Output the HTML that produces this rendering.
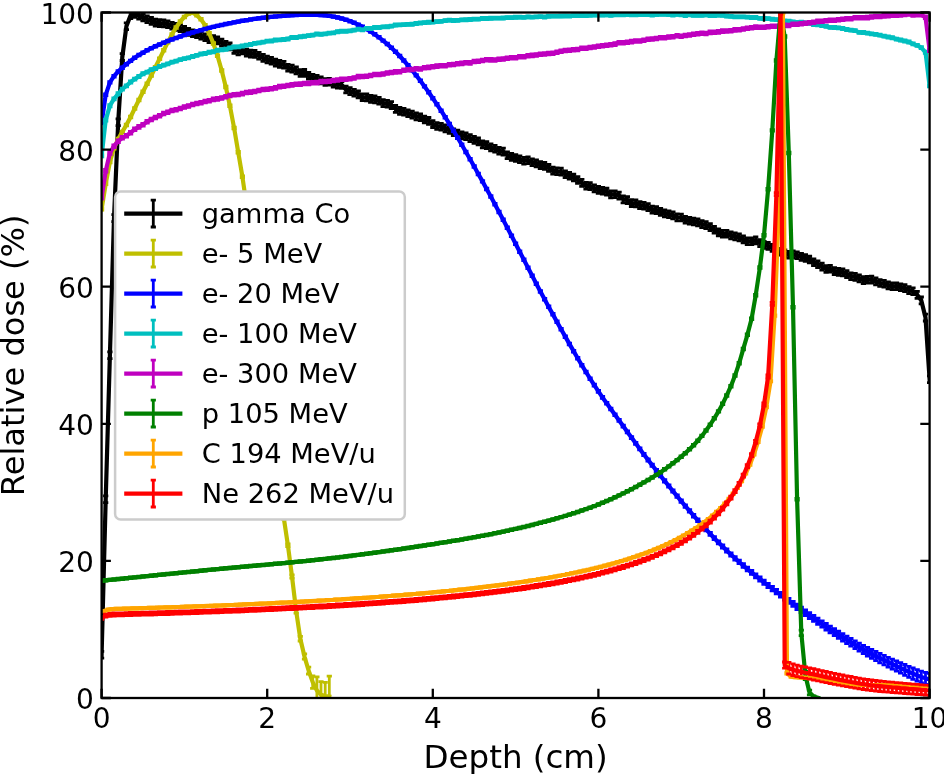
<!DOCTYPE html>
<html lang="en">
<head>
<meta charset="utf-8">
<title>Relative dose vs depth</title>
<style>
html,body{margin:0;padding:0;background:#fff;}
body{width:944px;height:774px;overflow:hidden;}
svg{display:block;}
text{font-family:"DejaVu Sans","Liberation Sans",sans-serif;fill:#000;}
.tk{font-size:28px;}
.lb{font-size:32.5px;}
.lg{font-size:27.3px;}
.ln{fill:none;stroke-width:4.2;stroke-linejoin:round;stroke-linecap:square;}
.eb{fill:none;stroke-width:2.8;stroke-linecap:butt;}
</style>
</head>
<body>
<svg width="944" height="774" viewBox="0 0 944 774">
<rect x="0" y="0" width="944" height="774" fill="#ffffff"/>
<defs><clipPath id="ax"><rect x="101.6" y="12.5" width="828" height="685.5"/></clipPath></defs>
<g clip-path="url(#ax)">
<path class="eb" stroke="#000000" d="M101.6 651.4V658.2M105.7 495.8V502.6M109.9 351.8V358.7M114 214.7V221.6M118.2 118.8V125.6M122.3 53.6V60.5M126.4 22.8V29.6M130.6 11.8V18.7M134.7 10.4V17.3M138.9 12.2V19M143 14.1V20.9M147.1 15.9V22.7M151.3 17.5V24.3M155.4 19.2V26.1M159.6 19.6V26.5M163.7 20V26.8M167.8 20.8V27.7M172 22.4V29.2M176.1 23.5V30.4M180.3 24.6V31.5M184.4 26.3V33.1M188.5 28.5V35.3M192.7 29.9V36.7M196.8 30.6V37.5M201 32.2V39M205.1 33.8V40.7M209.2 35.9V42.7M213.4 35.6V42.4M217.5 37V43.9M221.7 39.2V46M225.8 41.5V48.4M229.9 43V49.8M234.1 46.6V53.4M238.2 48V54.9M242.4 46.9V53.8M246.5 49.1V56M250.6 50.1V57M254.8 50.5V57.3M258.9 52.3V59.1M263.1 54.4V61.3M267.2 56.1V62.9M271.3 57.3V64.2M275.5 59.2V66.1M279.6 60.4V67.3M283.8 61.3V68.2M287.9 64.3V71.2M292 65.2V72.1M296.2 66.9V73.8M300.3 69.6V76.4M304.5 69.5V76.4M308.6 72.3V79.2M312.7 74.3V81.2M316.9 75.5V82.3M321 77V83.9M325.2 78.6V85.4M329.3 78.4V85.2M333.4 80.4V87.2M337.6 81.2V88M341.7 81.5V88.3M345.9 86.1V92.9M350 87.7V94.6M354.1 89.3V96.2M358.3 90.9V97.8M362.4 93.8V100.6M366.6 93.9V100.8M370.7 95.5V102.4M374.8 96V102.8M379 97.4V104.2M383.1 99.7V106.6M387.3 100.4V107.2M391.4 101.6V108.5M395.5 105.4V112.3M399.7 107.5V114.4M403.8 108.4V115.2M408 109.8V116.6M412.1 111.2V118M416.2 112.9V119.8M420.4 113.8V120.6M424.5 116.1V122.9M428.7 117.5V124.4M432.8 120.7V127.5M436.9 122.6V129.4M441.1 123.3V130.1M445.2 125V131.8M449.4 126.6V133.4M453.5 128.8V135.7M457.6 130.2V137.1M461.8 132V138.9M465.9 132.9V139.7M470.1 134.7V141.5M474.2 136.5V143.4M478.3 138V144.9M482.5 140.9V147.8M486.6 141.7V148.5M490.8 144V150.9M494.9 145.3V152.2M499 147.4V154.2M503.2 148.1V155M507.3 151.9V158.7M511.5 153.5V160.4M515.6 154.6V161.4M519.7 155.9V162.7M523.9 157.3V164.2M528 156.8V163.7M532.2 158.9V165.7M536.3 160V166.8M540.4 161.7V168.5M544.6 162.5V169.3M548.7 164.5V171.3M552.9 167.2V174M557 167.8V174.7M561.1 168.2V175.1M565.3 170.9V177.7M569.4 172.3V179.1M573.6 174.1V180.9M577.7 176.6V183.4M581.8 179.4V186.3M586 182.3V189.2M590.1 182.7V189.6M594.3 184.9V191.8M598.4 186.5V193.4M602.5 187.3V194.2M606.7 188.2V195M610.8 191V197.9M615 190.8V197.7M619.1 192.2V199.1M623.2 195.9V202.8M627.4 196.7V203.5M631.5 199.6V206.5M635.7 200V206.9M639.8 201.6V208.5M643.9 202.3V209.2M648.1 203.7V210.6M652.2 206.1V213M656.4 206.7V213.5M660.5 208.5V215.3M664.6 210V216.8M668.8 210.8V217.7M672.9 212V218.9M677.1 213.9V220.8M681.2 214.1V220.9M685.3 216.4V223.2M689.5 217.4V224.2M693.6 218.1V224.9M697.8 219V225.9M701.9 220.7V227.6M706 221.6V228.5M710.2 223.7V230.5M714.3 226.3V233.2M718.5 229V235.9M722.6 230.3V237.2M726.7 230.3V237.2M730.9 232V238.9M735 233V239.8M739.2 234V240.8M743.3 236V242.9M747.4 237.9V244.7M751.6 237.8V244.7M755.7 237V243.9M759.9 239.7V246.6M764 241.5V248.3M768.1 242.5V249.4M772.3 244.5V251.4M776.4 248V254.8M780.6 248.3V255.2M784.7 249.9V256.8M788.8 251.3V258.2M793 251V257.9M797.1 251.8V258.6M801.3 253.5V260.3M805.4 254.6V261.4M809.5 256.1V262.9M813.7 258.8V265.6M817.8 260.8V267.6M822 263.1V270M826.1 265.6V272.4M830.2 265.4V272.2M834.4 267.6V274.5M838.5 268.4V275.3M842.7 268.9V275.8M846.8 270.6V277.5M850.9 272.8V279.6M855.1 273.4V280.3M859.2 275V281.9M863.4 276.7V283.6M867.5 276.3V283.1M871.6 276.2V283M875.8 277.9V284.8M879.9 279.6V286.4M884.1 280.3V287.2M888.2 281.9V288.8M892.3 282.9V289.7M896.5 282.8V289.6M900.6 283.9V290.7M904.8 284.7V291.6M908.9 286.7V293.6M913 287.9V294.7M917.2 291.4V298.3M921.3 297V303.8M925.5 314.1V321M929.6 375.8V382.7"/>
<path class="eb" stroke="#bfbf00" d="M101.6 208.4V210.1M105.7 183V184.7M109.9 161.1V162.8M114 147.4V149.1M118.2 138.2V139.8M122.3 131.1V132.7M126.4 124.2V125.8M130.6 116.2V117.8M134.7 107.7V109.3M138.9 99.2V100.8M143 90.9V92.6M147.1 82.9V84.5M151.3 74.8V76.4M155.4 66.5V68.1M159.6 57.9V59.6M163.7 49.5V51.2M167.8 41.5V43.1M172 33.6V35.2M176.1 26.7V28.4M180.3 20.6V22.3M184.4 16.1V17.8M188.5 12.7V14.4M192.7 11.8V13.5M196.8 14.5V16.1M201 18.5V20.2M205.1 24.5V26.2M209.2 32.4V34M213.4 42.6V44.3M217.5 54.9V56.6M221.7 69.6V71.3M225.8 86.1V87.8M229.9 104.9V106.6M234.1 127.1V128.8M238.2 151.4V153.1M242.4 175.9V177.6M246.5 204V205.7M250.6 235.4V237.1M254.8 269.3V271.1M258.9 305.1V306.8M263.1 341.8V343.7M267.2 379V380.9M271.3 415.7V417.7M275.5 451.4V453.6M279.6 485.3V487.6M283.8 516.7V519.3M287.9 543.8V546.7M292 574.8V578.1M296.2 609.2V613.2M300.3 636.3V641M304.5 653.9V659.2M308.6 667.1V674M312.7 676V688.3M316.9 676.8V704.2M321 681.7V707.7M325.2 682.3V709.7M329.3 676.1V717.2"/>
<path class="eb" stroke="#0000ff" d="M101.6 122V123.7M105.7 93.9V95.6M109.9 81.6V83.2M114 75.3V77M118.2 70.7V72.4M122.3 66.8V68.5M126.4 63.3V65M130.6 60.1V61.7M134.7 57V58.6M138.9 54.2V55.9M143 51.8V53.5M147.1 49.5V51.2M151.3 47.4V49.1M155.4 45.5V47.1M159.6 43.6V45.3M163.7 41.9V43.5M167.8 40.2V41.9M172 38.6V40.3M176.1 37.1V38.8M180.3 35.7V37.3M184.4 34.3V35.9M188.5 33V34.6M192.7 31.7V33.3M196.8 30.5V32.1M201 29.3V31M205.1 28.2V29.8M209.2 27.1V28.7M213.4 26.1V27.7M217.5 25.1V26.7M221.7 24.1V25.8M225.8 23.2V24.9M229.9 22.4V24M234.1 21.6V23.2M238.2 20.8V22.4M242.4 20V21.7M246.5 19.4V21M250.6 18.7V20.3M254.8 18.1V19.7M258.9 17.5V19.2M263.1 17V18.6M267.2 16.5V18.1M271.3 16.1V17.7M275.5 15.7V17.3M279.6 15.3V16.9M283.8 15V16.6M287.9 14.7V16.3M292 14.4V16M296.2 14.2V15.8M300.3 14V15.6M304.5 13.9V15.5M308.6 13.8V15.5M312.7 13.9V15.5M316.9 14V15.6M321 14.2V15.9M325.2 14.6V16.2M329.3 15.1V16.7M333.4 15.8V17.4M337.6 16.6V18.3M341.7 17.6V19.3M345.9 18.9V20.5M350 20.3V22M354.1 22V23.6M358.3 23.8V25.5M362.4 25.9V27.6M366.6 28.2V29.9M370.7 30.8V32.4M374.8 33.5V35.2M379 36.5V38.2M383.1 39.8V41.4M387.3 43.2V44.9M391.4 47V48.6M395.5 50.9V52.6M399.7 55.2V56.8M403.8 59.7V61.3M408 64.4V66.1M412.1 69.4V71.1M416.2 74.6V76.2M420.4 80V81.6M424.5 85.6V87.2M428.7 91.4V93M432.8 97.4V99M436.9 103.5V105.2M441.1 109.9V111.5M445.2 116.4V118M449.4 123.1V124.7M453.5 129.9V131.6M457.6 136.9V138.5M461.8 144V145.6M465.9 151.1V152.8M470.1 158.4V160M474.2 165.7V167.4M478.3 173.1V174.8M482.5 180.6V182.2M486.6 188.1V189.8M490.8 195.7V197.4M494.9 203.4V205.1M499 211.2V212.8M503.2 219V220.6M507.3 226.9V228.5M511.5 234.8V236.5M515.6 242.8V244.5M519.7 250.9V252.6M523.9 259V260.6M528 267V268.7M532.2 275V276.6M536.3 282.9V284.6M540.4 290.7V292.4M544.6 298.4V300.1M548.7 306V307.7M552.9 313.5V315.2M557 321V322.7M561.1 328.4V330.1M565.3 335.8V337.5M569.4 343.1V344.8M573.6 350.3V352M577.7 357.4V359.1M581.8 364.3V366.1M586 371.2V372.9M590.1 377.8V379.6M594.3 384.2V386M598.4 390.5V392.3M602.5 396.5V398.3M606.7 402.3V404.2M610.8 408.1V409.9M615 413.8V415.6M619.1 419.5V421.4M623.2 425.2V427.1M627.4 430.9V432.8M631.5 436.6V438.6M635.7 442.3V444.3M639.8 447.9V449.9M643.9 453.5V455.5M648.1 458.9V461M652.2 464.2V466.3M656.4 469.5V471.6M660.5 474.6V476.8M664.6 479.7V482M668.8 484.8V487.1M672.9 489.9V492.2M677.1 494.9V497.3M681.2 499.9V502.3M685.3 504.8V507.3M689.5 509.6V512.2M693.6 514.4V517M697.8 519V521.7M701.9 523.5V526.3M706 528V530.8M710.2 532.4V535.3M714.3 536.7V539.6M718.5 540.9V543.9M722.6 545V548.1M726.7 548.9V552.2M730.9 552.8V556.1M735 556.6V560M739.2 560.2V563.7M743.3 563.7V567.4M747.4 567.2V570.9M751.6 570.5V574.4M755.7 573.8V577.8M759.9 577V581.1M764 580.2V584.3M768.1 583.3V587.6M772.3 586.3V590.8M776.4 589.4V593.9M780.6 592.4V597.1M784.7 595.4V600.2M788.8 598.3V603.3M793 601.3V606.4M797.1 604.2V609.5M801.3 607.1V612.5M805.4 609.9V615.5M809.5 612.7V618.5M813.7 615.5V621.4M817.8 618.2V624.3M822 620.9V627.2M826.1 623.5V630M830.2 626.1V632.8M834.4 628.7V635.6M838.5 631.2V638.3M842.7 633.7V641M846.8 636.1V643.6M850.9 638.5V646.2M855.1 640.8V648.7M859.2 643.1V651.2M863.4 645.3V653.7M867.5 647.4V656M871.6 649.5V658.3M875.8 651.5V660.6M879.9 653.5V662.8M884.1 655.4V664.9M888.2 657.3V667M892.3 659.1V669.1M896.5 660.9V671.2M900.6 662.7V673.2M904.8 664.5V675.3M908.9 666.3V677.3M913 668V679.3M917.2 669.6V681.1M921.3 671.1V682.8M925.5 672.4V684.3M929.6 673.4V685.5"/>
<path class="eb" stroke="#00bfbf" d="M101.6 154.7V156.8M105.7 119.1V121.2M109.9 104.7V106.8M114 97.9V99.9M118.2 92.7V94.8M122.3 88.1V90.1M126.4 84.9V86.9M130.6 81V83.1M134.7 78.1V80.2M138.9 75.5V77.6M143 72.7V74.8M147.1 71.1V73.1M151.3 68.6V70.7M155.4 67.5V69.5M159.6 65.5V67.6M163.7 64.2V66.2M167.8 62.9V64.9M172 61.1V63.2M176.1 60.1V62.1M180.3 58.6V60.7M184.4 57.6V59.7M188.5 56.8V58.9M192.7 55.4V57.5M196.8 54.3V56.3M201 53V55M205.1 52.4V54.5M209.2 51.2V53.3M213.4 50.7V52.8M217.5 49.2V51.3M221.7 48.8V50.9M225.8 48.2V50.3M229.9 47V49M234.1 45.9V48M238.2 45.9V47.9M242.4 45V47M246.5 44.1V46.2M250.6 43.5V45.5M254.8 42.3V44.3M258.9 41.9V43.9M263.1 41.2V43.2M267.2 40.2V42.2M271.3 39.9V42M275.5 39V41.1M279.6 38.9V40.9M283.8 38.4V40.5M287.9 38V40.1M292 36.4V38.5M296.2 36.5V38.5M300.3 35.7V37.8M304.5 35.2V37.3M308.6 34.6V36.7M312.7 34.1V36.1M316.9 33V35M321 33.2V35.3M325.2 32.9V34.9M329.3 32.2V34.2M333.4 31.8V33.8M337.6 30.7V32.8M341.7 30.2V32.3M345.9 30.2V32.3M350 29.8V31.9M354.1 29.1V31.1M358.3 28.1V30.2M362.4 28.8V30.9M366.6 27.5V29.5M370.7 27.4V29.5M374.8 26.4V28.5M379 26.5V28.6M383.1 25.9V27.9M387.3 25.7V27.8M391.4 25.1V27.2M395.5 24V26.1M399.7 23.8V25.8M403.8 23.7V25.7M408 23.4V25.4M412.1 23.2V25.3M416.2 22.4V24.5M420.4 21.9V24M424.5 21.6V23.6M428.7 21.2V23.3M432.8 21.2V23.2M436.9 20.6V22.6M441.1 20.3V22.3M445.2 19.6V21.6M449.4 19.1V21.2M453.5 19.4V21.5M457.6 19.3V21.3M461.8 18.8V20.9M465.9 18.7V20.8M470.1 18.5V20.6M474.2 18.1V20.2M478.3 18.2V20.2M482.5 17.5V19.6M486.6 17.5V19.6M490.8 17.2V19.3M494.9 17.2V19.2M499 17.1V19.2M503.2 17V19.1M507.3 16.7V18.7M511.5 16.6V18.7M515.6 16.2V18.3M519.7 16.2V18.2M523.9 16.4V18.4M528 15.9V17.9M532.2 16.1V18.2M536.3 15.8V17.8M540.4 15.6V17.6M544.6 15.9V18M548.7 15.2V17.3M552.9 15.1V17.1M557 15.1V17.1M561.1 15V17.1M565.3 14.9V17M569.4 15V17M573.6 14.7V16.7M577.7 14.7V16.7M581.8 14.4V16.5M586 14.7V16.7M590.1 14.2V16.3M594.3 14.1V16.2M598.4 14.1V16.2M602.5 14.2V16.2M606.7 13.8V15.9M610.8 14.4V16.4M615 13.7V15.8M619.1 13.8V15.8M623.2 13.7V15.8M627.4 13.6V15.7M631.5 13.9V15.9M635.7 13.7V15.8M639.8 13.5V15.5M643.9 13.5V15.5M648.1 13.5V15.6M652.2 14V16M656.4 13.4V15.5M660.5 13.2V15.3M664.6 13.3V15.3M668.8 13.5V15.5M672.9 14V16.1M677.1 13.4V15.4M681.2 13.7V15.8M685.3 14.4V16.5M689.5 13.7V15.8M693.6 14.3V16.4M697.8 14.4V16.4M701.9 14.3V16.3M706 13.9V15.9M710.2 14.4V16.5M714.3 14.4V16.5M718.5 14.2V16.2M722.6 14.4V16.4M726.7 15V17.1M730.9 15.3V17.4M735 15.8V17.9M739.2 15.9V17.9M743.3 15.8V17.9M747.4 16.1V18.1M751.6 16.4V18.5M755.7 16.5V18.5M759.9 17.3V19.4M764 17.5V19.5M768.1 17.7V19.7M772.3 18.2V20.3M776.4 18.6V20.7M780.6 19.3V21.3M784.7 19.9V22M788.8 20.1V22.2M793 20.9V22.9M797.1 21.4V23.4M801.3 21.2V23.2M805.4 21.8V23.9M809.5 22.3V24.3M813.7 23.5V25.5M817.8 23.8V25.8M822 24.6V26.6M826.1 25.3V27.4M830.2 26.3V28.4M834.4 26.5V28.5M838.5 26.8V28.8M842.7 27.5V29.6M846.8 28.5V30.5M850.9 29.1V31.1M855.1 29.6V31.7M859.2 31.4V33.4M863.4 31.4V33.5M867.5 32.1V34.1M871.6 32.8V34.9M875.8 33.3V35.3M879.9 34.2V36.2M884.1 35.1V37.2M888.2 36V38M892.3 36.7V38.8M896.5 38.1V40.1M900.6 39V41.1M904.8 40V42M908.9 41V43M913 42.9V44.9M917.2 44.4V46.4M921.3 46.6V48.7M925.5 51.2V53.3M929.6 84.8V86.9"/>
<path class="eb" stroke="#bf00bf" d="M101.6 196.2V199M105.7 169.5V172.2M109.9 151.7V154.4M114 144.8V147.5M118.2 139.8V142.5M122.3 136.4V139.2M126.4 134.4V137.1M130.6 131.3V134M134.7 128V130.7M138.9 125.5V128.3M143 123.3V126M147.1 120.3V123M151.3 118.2V120.9M155.4 116.1V118.8M159.6 114.4V117.1M163.7 112.2V114.9M167.8 111V113.7M172 109.1V111.9M176.1 108.4V111.1M180.3 107.1V109.8M184.4 105.6V108.3M188.5 104.7V107.4M192.7 103.2V105.9M196.8 102.2V104.9M201 101.5V104.2M205.1 100.2V102.9M209.2 99.3V102.1M213.4 98V100.8M217.5 97.5V100.3M221.7 96.6V99.3M225.8 95.3V98M229.9 94.2V96.9M234.1 93.4V96.1M238.2 93.1V95.9M242.4 92.2V95M246.5 91.1V93.8M250.6 90.7V93.5M254.8 90.1V92.9M258.9 89.1V91.8M263.1 88.2V90.9M267.2 87.8V90.6M271.3 87.3V90M275.5 86.5V89.3M279.6 85.2V88M283.8 85V87.7M287.9 84.2V86.9M292 83.5V86.3M296.2 82.9V85.7M300.3 82.7V85.5M304.5 82.1V84.8M308.6 82V84.8M312.7 81.5V84.2M316.9 81.2V84M321 80.2V83M325.2 80.1V82.8M329.3 79.8V82.5M333.4 79.2V81.9M337.6 78.6V81.4M341.7 77.9V80.6M345.9 78V80.7M350 77.3V80M354.1 76.6V79.3M358.3 75.2V78M362.4 75.1V77.8M366.6 74.8V77.6M370.7 74.1V76.8M374.8 73.1V75.9M379 73.2V75.9M383.1 72.6V75.4M387.3 71.6V74.4M391.4 71.2V73.9M395.5 70.5V73.3M399.7 70.3V73M403.8 69V71.7M408 68.4V71.2M412.1 68.1V70.9M416.2 67.5V70.2M420.4 67.7V70.4M424.5 66.4V69.1M428.7 66V68.8M432.8 65.3V68.1M436.9 64.7V67.5M441.1 64.5V67.2M445.2 64.3V67.1M449.4 63.3V66M453.5 63.1V65.8M457.6 62.4V65.2M461.8 62V64.8M465.9 61.5V64.2M470.1 61.5V64.3M474.2 60.1V62.8M478.3 59.9V62.6M482.5 59.2V61.9M486.6 58.5V61.2M490.8 58.5V61.3M494.9 58.6V61.3M499 57.9V60.7M503.2 57.6V60.3M507.3 56.9V59.7M511.5 56.3V59.1M515.6 56.4V59.2M519.7 55.3V58.1M523.9 55.4V58.1M528 54.4V57.1M532.2 54V56.8M536.3 53.6V56.3M540.4 53V55.7M544.6 52.6V55.3M548.7 52.1V54.8M552.9 51.8V54.6M557 50.8V53.6M561.1 49.8V52.5M565.3 49.2V51.9M569.4 48.8V51.5M573.6 48.4V51.1M577.7 48.1V50.9M581.8 47V49.7M586 46.8V49.5M590.1 46.2V48.9M594.3 45.6V48.4M598.4 44.9V47.6M602.5 44.5V47.2M606.7 43.8V46.5M610.8 43.5V46.2M615 42.7V45.5M619.1 41.4V44.2M623.2 41.5V44.2M627.4 41V43.7M631.5 40.2V43M635.7 39.6V42.4M639.8 39.6V42.3M643.9 38.8V41.6M648.1 38V40.7M652.2 37.6V40.4M656.4 37.2V39.9M660.5 36.3V39M664.6 36.4V39.1M668.8 35.7V38.4M672.9 35.4V38.1M677.1 34.4V37.1M681.2 34.9V37.6M685.3 34.1V36.8M689.5 33.6V36.3M693.6 32.8V35.6M697.8 32.4V35.2M701.9 31.8V34.5M706 32.1V34.9M710.2 31V33.8M714.3 30.9V33.6M718.5 30.5V33.3M722.6 29.7V32.5M726.7 29.6V32.4M730.9 29.5V32.2M735 28.5V31.3M739.2 28.4V31.1M743.3 27.7V30.4M747.4 26.9V29.7M751.6 26.5V29.2M755.7 25.7V28.5M759.9 25.8V28.6M764 25.8V28.6M768.1 25.3V28M772.3 25V27.7M776.4 24.8V27.5M780.6 24V26.8M784.7 24V26.8M788.8 24.1V26.8M793 23V25.7M797.1 22.9V25.6M801.3 22.3V25.1M805.4 21.9V24.7M809.5 21.3V24M813.7 20.9V23.6M817.8 20V22.8M822 19.8V22.5M826.1 19.3V22.1M830.2 18.9V21.6M834.4 19V21.7M838.5 18.3V21M842.7 17.9V20.6M846.8 17.4V20.1M850.9 17.5V20.2M855.1 16.3V19M859.2 16.4V19.1M863.4 16.4V19.2M867.5 16.2V19M871.6 15.6V18.3M875.8 15.2V17.9M879.9 15.1V17.8M884.1 14.5V17.3M888.2 14.4V17.2M892.3 13.8V16.6M896.5 14V16.7M900.6 13.6V16.3M904.8 13.2V15.9M908.9 12.6V15.4M913 13.5V16.3M917.2 13.3V16.1M921.3 13.5V16.2M925.5 15.9V18.7M929.6 48.8V51.6"/>
<path class="eb" stroke="#008000" d="M101.6 580V581.6M105.7 579.5V581.2M109.9 579.1V580.7M114 578.7V580.3M118.2 578.2V579.9M122.3 577.8V579.5M126.4 577.4V579M130.6 577V578.6M134.7 576.6V578.2M138.9 576.1V577.8M143 575.7V577.4M147.1 575.3V576.9M151.3 574.9V576.5M155.4 574.5V576.1M159.6 574V575.7M163.7 573.6V575.3M167.8 573.2V574.9M172 572.8V574.4M176.1 572.4V574M180.3 572V573.6M184.4 571.6V573.2M188.5 571.1V572.8M192.7 570.7V572.4M196.8 570.3V572M201 569.9V571.6M205.1 569.5V571.2M209.2 569.1V570.7M213.4 568.7V570.3M217.5 568.3V569.9M221.7 567.9V569.5M225.8 567.5V569.1M229.9 567.1V568.8M234.1 566.7V568.4M238.2 566.4V568M242.4 566V567.6M246.5 565.6V567.3M250.6 565.2V566.9M254.8 564.9V566.5M258.9 564.5V566.1M263.1 564.1V565.8M267.2 563.8V565.4M271.3 563.4V565M275.5 563V564.7M279.6 562.6V564.3M283.8 562.3V563.9M287.9 561.9V563.5M292 561.5V563.1M296.2 561.1V562.7M300.3 560.7V562.3M304.5 560.3V561.9M308.6 559.8V561.5M312.7 559.4V561.1M316.9 559V560.6M321 558.5V560.2M325.2 558.1V559.7M329.3 557.6V559.2M333.4 557.1V558.8M337.6 556.6V558.3M341.7 556.1V557.8M345.9 555.6V557.3M350 555.1V556.8M354.1 554.6V556.2M358.3 554.1V555.7M362.4 553.5V555.2M366.6 553V554.6M370.7 552.4V554.1M374.8 551.9V553.5M379 551.3V552.9M383.1 550.7V552.4M387.3 550.1V551.8M391.4 549.5V551.2M395.5 548.9V550.6M399.7 548.3V550M403.8 547.7V549.4M408 547.1V548.8M412.1 546.5V548.1M416.2 545.9V547.5M420.4 545.2V546.9M424.5 544.6V546.3M428.7 544V545.6M432.8 543.3V545M436.9 542.7V544.3M441.1 542V543.7M445.2 541.4V543M449.4 540.7V542.4M453.5 540V541.7M457.6 539.3V541M461.8 538.6V540.3M465.9 537.9V539.6M470.1 537.2V538.8M474.2 536.5V538.1M478.3 535.7V537.3M482.5 534.9V536.6M486.6 534.1V535.8M490.8 533.3V535M494.9 532.5V534.1M499 531.6V533.3M503.2 530.8V532.4M507.3 529.9V531.5M511.5 529V530.6M515.6 528.1V529.7M519.7 527.1V528.8M523.9 526.1V527.8M528 525.1V526.8M532.2 524.1V525.8M536.3 523.1V524.7M540.4 522V523.7M544.6 520.9V522.6M548.7 519.8V521.4M552.9 518.7V520.3M557 517.5V519.1M561.1 516.3V517.9M565.3 515.1V516.7M569.4 513.8V515.4M573.6 512.5V514.1M577.7 511.1V512.8M581.8 509.7V511.4M586 508.3V509.9M590.1 506.8V508.5M594.3 505.3V506.9M598.4 503.7V505.3M602.5 502V503.6M606.7 500.2V501.9M610.8 498.4V500.1M615 496.5V498.2M619.1 494.6V496.2M623.2 492.6V494.2M627.4 490.5V492.1M631.5 488.4V490M635.7 486.2V487.8M639.8 483.9V485.5M643.9 481.6V483.2M648.1 479.2V480.8M652.2 476.7V478.3M656.4 474.1V475.7M660.5 471.4V473M664.6 468.5V470.2M668.8 465.6V467.2M672.9 462.5V464.1M677.1 459.3V460.9M681.2 455.9V457.5M685.3 452.3V454M689.5 448.5V450.1M693.6 444.4V446M697.8 439.9V441.6M701.9 435.1V436.7M706 429.7V431.4M710.2 423.8V425.5M714.3 417.4V419.1M718.5 410.6V412.2M722.6 403V404.7M726.7 394.7V396.3M730.9 385.4V387M735 374.7V376.4M739.2 362.4V364M743.3 348.1V349.8M747.4 333.9V335.6M751.6 318V319.7M755.7 294.4V296.1M759.9 266.7V268.3M764 234.5V236.1M768.1 188.5V190.2M772.3 129.6V131.2M776.4 59.7V61.3M780.6 11.7V13.3M784.7 35.7V37.3M788.8 152.2V153.9M793 306.4V308.1M797.1 498.4V500M801.3 630.1V635.6M805.4 671.3V679.5M809.5 690.1V694.9M813.7 695.9V697.3M817.8 697.3V698"/>
<path class="eb" stroke="#ffa500" d="M103.9 610.3V611.6M108.1 609V610.4M112.2 608.4V609.8M116.3 608.2V609.6M120.5 608.1V609.5M124.6 608V609.4M128.8 607.9V609.2M132.9 607.7V609.1M137 607.6V609M141.2 607.5V608.9M145.3 607.4V608.7M149.5 607.2V608.6M153.6 607.1V608.5M157.7 607V608.4M161.9 606.9V608.2M166 606.7V608.1M170.2 606.6V608M174.3 606.4V607.8M178.4 606.3V607.7M182.6 606.2V607.5M186.7 606V607.4M190.9 605.9V607.2M195 605.7V607.1M199.1 605.6V606.9M203.3 605.4V606.8M207.4 605.3V606.6M211.6 605.1V606.5M215.7 604.9V606.3M219.8 604.8V606.1M224 604.6V606M228.1 604.4V605.8M232.3 604.3V605.6M236.4 604.1V605.5M240.5 603.9V605.3M244.7 603.7V605.1M248.8 603.6V604.9M253 603.4V604.7M257.1 603.2V604.6M261.2 603V604.4M265.4 602.8V604.2M269.5 602.6V604M273.7 602.4V603.8M277.8 602.2V603.6M281.9 602V603.4M286.1 601.8V603.2M290.2 601.6V603M294.4 601.4V602.7M298.5 601.2V602.5M302.6 600.9V602.3M306.8 600.7V602.1M310.9 600.5V601.9M315.1 600.3V601.6M319.2 600V601.4M323.3 599.8V601.2M327.5 599.5V600.9M331.6 599.3V600.7M335.8 599V600.4M339.9 598.8V600.2M344 598.5V599.9M348.2 598.3V599.6M352.3 598V599.4M356.5 597.7V599.1M360.6 597.4V598.8M364.7 597.2V598.5M368.9 596.9V598.2M373 596.6V597.9M377.2 596.3V597.7M381.3 596V597.3M385.4 595.7V597M389.6 595.4V596.7M393.7 595V596.4M397.9 594.7V596.1M402 594.4V595.8M406.1 594V595.4M410.3 593.7V595.1M414.4 593.4V594.7M418.6 593V594.4M422.7 592.6V594M426.8 592.3V593.6M431 591.9V593.3M435.1 591.5V592.9M439.3 591.1V592.5M443.4 590.7V592.1M447.5 590.3V591.7M451.7 589.9V591.3M455.8 589.5V590.8M460 589V590.4M464.1 588.6V590M468.2 588.1V589.5M472.4 587.7V589M476.5 587.2V588.6M480.7 586.7V588.1M484.8 586.2V587.6M488.9 585.7V587.1M493.1 585.2V586.6M497.2 584.7V586.1M501.4 584.1V585.5M505.5 583.6V585M509.6 583V584.4M513.8 582.5V583.8M517.9 581.9V583.2M522.1 581.3V582.6M526.2 580.6V582M530.3 580V581.4M534.5 579.4V580.7M538.6 578.7V580.1M542.8 578V579.4M546.9 577.3V578.7M551 576.6V578M555.2 575.8V577.2M559.3 575.1V576.4M563.5 574.3V575.7M567.6 573.5V574.9M571.7 572.7V574M575.9 571.8V573.2M580 570.9V572.3M584.2 570V571.4M588.3 569.1V570.5M592.4 568.1V569.5M596.6 567.1V568.5M600.7 566.1V567.5M604.9 565V566.4M609 563.9V565.3M613.1 562.8V564.2M617.3 561.6V563M621.4 560.4V561.8M625.6 559.1V560.5M629.7 557.8V559.2M633.8 556.5V557.8M638 555V556.4M642.1 553.6V554.9M646.3 552.1V553.4M650.4 550.5V551.8M654.5 548.8V550.2M658.7 547.1V548.5M662.8 545.3V546.7M667 543.4V544.8M671.1 541.4V542.8M675.2 539.3V540.7M679.4 537.1V538.5M683.5 534.8V536.2M687.7 532.5V533.8M691.8 529.9V531.3M695.9 527.3V528.7M700.1 524.5V525.8M704.2 521.5V522.8M708.4 518.3V519.7M712.5 514.9V516.3M716.6 511.2V512.6M720.8 507.3V508.6M724.9 503V504.3M729.1 498.2V499.6M733.2 493V494.3M737.3 487.1V488.5M741.5 480.4V481.8M745.6 472.8V474.2M749.8 464V465.4M753.9 453.6V455M758 441.2V442.6M762.2 426V427.4M766.3 406.4V407.8M770.5 380.6V381.9M774.6 315V316.4M778.7 211.7V213.1M782.9 11.8V13.2M787 672.6V674M791.2 676.1V677.4M795.3 676.5V677.9M799.4 676.8V678.2M803.6 677V678.3M807.7 677.1V678.5M811.9 677.4V678.8M816 677.9V679.3M820.1 678.5V679.9M824.3 679.3V680.6M828.4 680.1V681.4M832.6 680.9V682.2M836.7 681.6V683M840.8 682.2V683.6M845 682.7V684M849.1 683.1V684.4M853.3 683.5V684.8M857.4 683.8V685.2M861.5 684.1V685.5M865.7 684.3V685.7M869.8 684.5V685.8M874 684.5V685.9M878.1 684.5V685.9M882.2 684.6V685.9M886.4 684.6V685.9M890.5 684.6V685.9M894.7 684.6V686M898.8 684.6V686M902.9 684.6V686M907.1 684.7V686M911.2 684.8V686.2M915.4 685V686.4M919.5 685.2V686.6M923.6 685.3V686.7M927.8 685.3V686.7"/>
<path class="eb" stroke="#ff0000" d="M101.6 616.3V619.3M105.7 614.2V617.2M109.9 613.4V616.4M114 613V616M118.2 612.9V615.9M122.3 612.8V615.8M126.4 612.6V615.7M130.6 612.5V615.5M134.7 612.4V615.4M138.9 612.3V615.3M143 612.2V615.2M147.1 612.1V615.1M151.3 611.9V615M155.4 611.8V614.8M159.6 611.7V614.7M163.7 611.6V614.6M167.8 611.4V614.5M172 611.3V614.3M176.1 611.2V614.2M180.3 611V614.1M184.4 610.9V613.9M188.5 610.8V613.8M192.7 610.6V613.6M196.8 610.5V613.5M201 610.3V613.4M205.1 610.2V613.2M209.2 610.1V613.1M213.4 609.9V612.9M217.5 609.7V612.8M221.7 609.6V612.6M225.8 609.4V612.4M229.9 609.3V612.3M234.1 609.1V612.1M238.2 608.9V612M242.4 608.8V611.8M246.5 608.6V611.6M250.6 608.4V611.4M254.8 608.2V611.3M258.9 608.1V611.1M263.1 607.9V610.9M267.2 607.7V610.7M271.3 607.5V610.5M275.5 607.3V610.3M279.6 607.1V610.1M283.8 606.9V609.9M287.9 606.7V609.7M292 606.5V609.5M296.2 606.3V609.3M300.3 606.1V609.1M304.5 605.9V608.9M308.6 605.7V608.7M312.7 605.4V608.5M316.9 605.2V608.2M321 605V608M325.2 604.8V607.8M329.3 604.5V607.5M333.4 604.3V607.3M337.6 604V607M341.7 603.8V606.8M345.9 603.5V606.5M350 603.3V606.3M354.1 603V606M358.3 602.7V605.8M362.4 602.5V605.5M366.6 602.2V605.2M370.7 601.9V604.9M374.8 601.6V604.6M379 601.3V604.3M383.1 601V604.1M387.3 600.7V603.7M391.4 600.4V603.4M395.5 600.1V603.1M399.7 599.8V602.8M403.8 599.5V602.5M408 599.1V602.1M412.1 598.8V601.8M416.2 598.4V601.5M420.4 598.1V601.1M424.5 597.7V600.8M428.7 597.4V600.4M432.8 597V600M436.9 596.6V599.6M441.1 596.2V599.2M445.2 595.8V598.9M449.4 595.4V598.4M453.5 595V598M457.6 594.6V597.6M461.8 594.2V597.2M465.9 593.7V596.7M470.1 593.3V596.3M474.2 592.8V595.8M478.3 592.4V595.4M482.5 591.9V594.9M486.6 591.4V594.4M490.8 590.9V593.9M494.9 590.4V593.4M499 589.9V592.9M503.2 589.3V592.3M507.3 588.8V591.8M511.5 588.2V591.2M515.6 587.6V590.7M519.7 587.1V590.1M523.9 586.4V589.5M528 585.8V588.8M532.2 585.2V588.2M536.3 584.5V587.6M540.4 583.9V586.9M544.6 583.2V586.2M548.7 582.5V585.5M552.9 581.8V584.8M557 581V584M561.1 580.3V583.3M565.3 579.5V582.5M569.4 578.7V581.7M573.6 577.8V580.9M577.7 577V580M581.8 576.1V579.1M586 575.2V578.2M590.1 574.2V577.3M594.3 573.3V576.3M598.4 572.3V575.3M602.5 571.2V574.2M606.7 570.2V573.2M610.8 569V572.1M615 567.9V570.9M619.1 566.7V569.7M623.2 565.5V568.5M627.4 564.2V567.2M631.5 562.9V565.9M635.7 561.5V564.5M639.8 560V563M643.9 558.5V561.5M648.1 556.9V560M652.2 555.3V558.3M656.4 553.6V556.6M660.5 551.8V554.8M664.6 549.9V552.9M668.8 547.9V550.9M672.9 545.8V548.8M677.1 543.6V546.6M681.2 541.3V544.3M685.3 538.8V541.8M689.5 536.2V539.2M693.6 533.4V536.4M697.8 530.4V533.4M701.9 527.2V530.2M706 523.8V526.8M710.2 520.1V523.1M714.3 516.1V519.2M718.5 511.8V514.8M722.6 507.1V510.1M726.7 501.9V504.9M730.9 496.1V499.1M735 489.7V492.7M739.2 482.4V485.4M743.3 474.2V477.2M747.4 464.7V467.7M751.6 453.6V456.6M755.7 440.3V443.3M759.9 423.9V426.9M764 403V406M768.1 375V378M772.3 302.3V305.3M776.4 192.6V195.7M780.6 11V14M784.7 662V668.2M788.8 662.4V674M793 663.9V675.5M797.1 665.1V676.6M801.3 666.1V677.6M805.4 667V678.4M809.5 667.8V679.1M813.7 668.7V680M817.8 669.7V680.9M822 670.6V681.8M826.1 671.5V682.7M830.2 672.4V683.5M834.4 673.3V684.3M838.5 674.1V685.1M842.7 675V685.9M846.8 675.8V686.7M850.9 676.5V687.4M855.1 677.3V688.1M859.2 678.1V688.8M863.4 678.8V689.5M867.5 679.5V690.1M871.6 680V690.6M875.8 680.5V691.1M879.9 681V691.5M884.1 681.4V691.8M888.2 681.8V692.2M892.3 682.2V692.5M896.5 682.6V692.9M900.6 682.9V693.2M904.8 683.3V693.5M908.9 683.7V693.8M913 684.1V694.1M917.2 684.4V694.5M921.3 684.8V694.7M925.5 685.1V695M929.6 685.4V695.3"/>
<g stroke="#000000">
<path class="ln" d="M101.6 654.8L105.7 499.2L109.9 355.2L114 218.1L118.2 122.2L122.3 57.1L126.4 26.2L130.6 15.2L134.7 13.9L138.9 15.6L143 17.5L147.1 19.3L151.3 20.9L155.4 22.6L159.6 23.1L163.7 23.4L167.8 24.2L172 25.8L176.1 26.9L180.3 28.1L184.4 29.7L188.5 31.9L192.7 33.3L196.8 34.1L201 35.6L205.1 37.2L209.2 39.3L213.4 39L217.5 40.5L221.7 42.6L225.8 44.9L229.9 46.4L234.1 50L238.2 51.5L242.4 50.3L246.5 52.5L250.6 53.6L254.8 53.9L258.9 55.7L263.1 57.9L267.2 59.5L271.3 60.7L275.5 62.6L279.6 63.9L283.8 64.8L287.9 67.7L292 68.7L296.2 70.4L300.3 73L304.5 73L308.6 75.8L312.7 77.8L316.9 78.9L321 80.4L325.2 82L329.3 81.8L333.4 83.8L337.6 84.6L341.7 84.9L345.9 89.5L350 91.1L354.1 92.8L358.3 94.3L362.4 97.2L366.6 97.3L370.7 98.9L374.8 99.4L379 100.8L383.1 103.2L387.3 103.8L391.4 105L395.5 108.8L399.7 110.9L403.8 111.8L408 113.2L412.1 114.6L416.2 116.3L420.4 117.2L424.5 119.5L428.7 120.9L432.8 124.1L436.9 126L441.1 126.7L445.2 128.4L449.4 130L453.5 132.2L457.6 133.7L461.8 135.4L465.9 136.3L470.1 138.1L474.2 139.9L478.3 141.4L482.5 144.3L486.6 145.1L490.8 147.5L494.9 148.7L499 150.8L503.2 151.5L507.3 155.3L511.5 157L515.6 158L519.7 159.3L523.9 160.7L528 160.2L532.2 162.3L536.3 163.4L540.4 165.1L544.6 165.9L548.7 167.9L552.9 170.6L557 171.3L561.1 171.7L565.3 174.3L569.4 175.7L573.6 177.5L577.7 180L581.8 182.9L586 185.8L590.1 186.1L594.3 188.4L598.4 189.9L602.5 190.7L606.7 191.6L610.8 194.5L615 194.2L619.1 195.6L623.2 199.3L627.4 200.1L631.5 203L635.7 203.4L639.8 205L643.9 205.8L648.1 207.2L652.2 209.6L656.4 210.1L660.5 211.9L664.6 213.4L668.8 214.3L672.9 215.4L677.1 217.3L681.2 217.5L685.3 219.8L689.5 220.8L693.6 221.5L697.8 222.4L701.9 224.2L706 225L710.2 227.1L714.3 229.7L718.5 232.5L722.6 233.8L726.7 233.8L730.9 235.4L735 236.4L739.2 237.4L743.3 239.4L747.4 241.3L751.6 241.2L755.7 240.5L759.9 243.1L764 244.9L768.1 245.9L772.3 248L776.4 251.4L780.6 251.8L784.7 253.4L788.8 254.8L793 254.4L797.1 255.2L801.3 256.9L805.4 258L809.5 259.5L813.7 262.2L817.8 264.2L822 266.5L826.1 269L830.2 268.8L834.4 271.1L838.5 271.9L842.7 272.3L846.8 274.1L850.9 276.2L855.1 276.8L859.2 278.4L863.4 280.1L867.5 279.7L871.6 279.6L875.8 281.4L879.9 283L884.1 283.8L888.2 285.4L892.3 286.3L896.5 286.2L900.6 287.3L904.8 288.2L908.9 290.1L913 291.3L917.2 294.8L921.3 300.4L925.5 317.5L929.6 379.2"/>
<path class="eb" d="M99 651.4h5.2M99 658.2h5.2M103.1 495.8h5.2M103.1 502.6h5.2M107.3 351.8h5.2M107.3 358.7h5.2M111.4 214.7h5.2M111.4 221.6h5.2M115.6 118.8h5.2M115.6 125.6h5.2M119.7 53.6h5.2M119.7 60.5h5.2M123.8 22.8h5.2M123.8 29.6h5.2M128 11.8h5.2M128 18.7h5.2M132.1 10.4h5.2M132.1 17.3h5.2M136.3 12.2h5.2M136.3 19h5.2M140.4 14.1h5.2M140.4 20.9h5.2M144.5 15.9h5.2M144.5 22.7h5.2M148.7 17.5h5.2M148.7 24.3h5.2M152.8 19.2h5.2M152.8 26.1h5.2M157 19.6h5.2M157 26.5h5.2M161.1 20h5.2M161.1 26.8h5.2M165.2 20.8h5.2M165.2 27.7h5.2M169.4 22.4h5.2M169.4 29.2h5.2M173.5 23.5h5.2M173.5 30.4h5.2M177.7 24.6h5.2M177.7 31.5h5.2M181.8 26.3h5.2M181.8 33.1h5.2M185.9 28.5h5.2M185.9 35.3h5.2M190.1 29.9h5.2M190.1 36.7h5.2M194.2 30.6h5.2M194.2 37.5h5.2M198.4 32.2h5.2M198.4 39h5.2M202.5 33.8h5.2M202.5 40.7h5.2M206.6 35.9h5.2M206.6 42.7h5.2M210.8 35.6h5.2M210.8 42.4h5.2M214.9 37h5.2M214.9 43.9h5.2M219.1 39.2h5.2M219.1 46h5.2M223.2 41.5h5.2M223.2 48.4h5.2M227.3 43h5.2M227.3 49.8h5.2M231.5 46.6h5.2M231.5 53.4h5.2M235.6 48h5.2M235.6 54.9h5.2M239.8 46.9h5.2M239.8 53.8h5.2M243.9 49.1h5.2M243.9 56h5.2M248 50.1h5.2M248 57h5.2M252.2 50.5h5.2M252.2 57.3h5.2M256.3 52.3h5.2M256.3 59.1h5.2M260.5 54.4h5.2M260.5 61.3h5.2M264.6 56.1h5.2M264.6 62.9h5.2M268.7 57.3h5.2M268.7 64.2h5.2M272.9 59.2h5.2M272.9 66.1h5.2M277 60.4h5.2M277 67.3h5.2M281.2 61.3h5.2M281.2 68.2h5.2M285.3 64.3h5.2M285.3 71.2h5.2M289.4 65.2h5.2M289.4 72.1h5.2M293.6 66.9h5.2M293.6 73.8h5.2M297.7 69.6h5.2M297.7 76.4h5.2M301.9 69.5h5.2M301.9 76.4h5.2M306 72.3h5.2M306 79.2h5.2M310.1 74.3h5.2M310.1 81.2h5.2M314.3 75.5h5.2M314.3 82.3h5.2M318.4 77h5.2M318.4 83.9h5.2M322.6 78.6h5.2M322.6 85.4h5.2M326.7 78.4h5.2M326.7 85.2h5.2M330.8 80.4h5.2M330.8 87.2h5.2M335 81.2h5.2M335 88h5.2M339.1 81.5h5.2M339.1 88.3h5.2M343.3 86.1h5.2M343.3 92.9h5.2M347.4 87.7h5.2M347.4 94.6h5.2M351.5 89.3h5.2M351.5 96.2h5.2M355.7 90.9h5.2M355.7 97.8h5.2M359.8 93.8h5.2M359.8 100.6h5.2M364 93.9h5.2M364 100.8h5.2M368.1 95.5h5.2M368.1 102.4h5.2M372.2 96h5.2M372.2 102.8h5.2M376.4 97.4h5.2M376.4 104.2h5.2M380.5 99.7h5.2M380.5 106.6h5.2M384.7 100.4h5.2M384.7 107.2h5.2M388.8 101.6h5.2M388.8 108.5h5.2M392.9 105.4h5.2M392.9 112.3h5.2M397.1 107.5h5.2M397.1 114.4h5.2M401.2 108.4h5.2M401.2 115.2h5.2M405.4 109.8h5.2M405.4 116.6h5.2M409.5 111.2h5.2M409.5 118h5.2M413.6 112.9h5.2M413.6 119.8h5.2M417.8 113.8h5.2M417.8 120.6h5.2M421.9 116.1h5.2M421.9 122.9h5.2M426.1 117.5h5.2M426.1 124.4h5.2M430.2 120.7h5.2M430.2 127.5h5.2M434.3 122.6h5.2M434.3 129.4h5.2M438.5 123.3h5.2M438.5 130.1h5.2M442.6 125h5.2M442.6 131.8h5.2M446.8 126.6h5.2M446.8 133.4h5.2M450.9 128.8h5.2M450.9 135.7h5.2M455 130.2h5.2M455 137.1h5.2M459.2 132h5.2M459.2 138.9h5.2M463.3 132.9h5.2M463.3 139.7h5.2M467.5 134.7h5.2M467.5 141.5h5.2M471.6 136.5h5.2M471.6 143.4h5.2M475.7 138h5.2M475.7 144.9h5.2M479.9 140.9h5.2M479.9 147.8h5.2M484 141.7h5.2M484 148.5h5.2M488.2 144h5.2M488.2 150.9h5.2M492.3 145.3h5.2M492.3 152.2h5.2M496.4 147.4h5.2M496.4 154.2h5.2M500.6 148.1h5.2M500.6 155h5.2M504.7 151.9h5.2M504.7 158.7h5.2M508.9 153.5h5.2M508.9 160.4h5.2M513 154.6h5.2M513 161.4h5.2M517.1 155.9h5.2M517.1 162.7h5.2M521.3 157.3h5.2M521.3 164.2h5.2M525.4 156.8h5.2M525.4 163.7h5.2M529.6 158.9h5.2M529.6 165.7h5.2M533.7 160h5.2M533.7 166.8h5.2M537.8 161.7h5.2M537.8 168.5h5.2M542 162.5h5.2M542 169.3h5.2M546.1 164.5h5.2M546.1 171.3h5.2M550.3 167.2h5.2M550.3 174h5.2M554.4 167.8h5.2M554.4 174.7h5.2M558.5 168.2h5.2M558.5 175.1h5.2M562.7 170.9h5.2M562.7 177.7h5.2M566.8 172.3h5.2M566.8 179.1h5.2M571 174.1h5.2M571 180.9h5.2M575.1 176.6h5.2M575.1 183.4h5.2M579.2 179.4h5.2M579.2 186.3h5.2M583.4 182.3h5.2M583.4 189.2h5.2M587.5 182.7h5.2M587.5 189.6h5.2M591.7 184.9h5.2M591.7 191.8h5.2M595.8 186.5h5.2M595.8 193.4h5.2M599.9 187.3h5.2M599.9 194.2h5.2M604.1 188.2h5.2M604.1 195h5.2M608.2 191h5.2M608.2 197.9h5.2M612.4 190.8h5.2M612.4 197.7h5.2M616.5 192.2h5.2M616.5 199.1h5.2M620.6 195.9h5.2M620.6 202.8h5.2M624.8 196.7h5.2M624.8 203.5h5.2M628.9 199.6h5.2M628.9 206.5h5.2M633.1 200h5.2M633.1 206.9h5.2M637.2 201.6h5.2M637.2 208.5h5.2M641.3 202.3h5.2M641.3 209.2h5.2M645.5 203.7h5.2M645.5 210.6h5.2M649.6 206.1h5.2M649.6 213h5.2M653.8 206.7h5.2M653.8 213.5h5.2M657.9 208.5h5.2M657.9 215.3h5.2M662 210h5.2M662 216.8h5.2M666.2 210.8h5.2M666.2 217.7h5.2M670.3 212h5.2M670.3 218.9h5.2M674.5 213.9h5.2M674.5 220.8h5.2M678.6 214.1h5.2M678.6 220.9h5.2M682.7 216.4h5.2M682.7 223.2h5.2M686.9 217.4h5.2M686.9 224.2h5.2M691 218.1h5.2M691 224.9h5.2M695.2 219h5.2M695.2 225.9h5.2M699.3 220.7h5.2M699.3 227.6h5.2M703.4 221.6h5.2M703.4 228.5h5.2M707.6 223.7h5.2M707.6 230.5h5.2M711.7 226.3h5.2M711.7 233.2h5.2M715.9 229h5.2M715.9 235.9h5.2M720 230.3h5.2M720 237.2h5.2M724.1 230.3h5.2M724.1 237.2h5.2M728.3 232h5.2M728.3 238.9h5.2M732.4 233h5.2M732.4 239.8h5.2M736.6 234h5.2M736.6 240.8h5.2M740.7 236h5.2M740.7 242.9h5.2M744.8 237.9h5.2M744.8 244.7h5.2M749 237.8h5.2M749 244.7h5.2M753.1 237h5.2M753.1 243.9h5.2M757.3 239.7h5.2M757.3 246.6h5.2M761.4 241.5h5.2M761.4 248.3h5.2M765.5 242.5h5.2M765.5 249.4h5.2M769.7 244.5h5.2M769.7 251.4h5.2M773.8 248h5.2M773.8 254.8h5.2M778 248.3h5.2M778 255.2h5.2M782.1 249.9h5.2M782.1 256.8h5.2M786.2 251.3h5.2M786.2 258.2h5.2M790.4 251h5.2M790.4 257.9h5.2M794.5 251.8h5.2M794.5 258.6h5.2M798.7 253.5h5.2M798.7 260.3h5.2M802.8 254.6h5.2M802.8 261.4h5.2M806.9 256.1h5.2M806.9 262.9h5.2M811.1 258.8h5.2M811.1 265.6h5.2M815.2 260.8h5.2M815.2 267.6h5.2M819.4 263.1h5.2M819.4 270h5.2M823.5 265.6h5.2M823.5 272.4h5.2M827.6 265.4h5.2M827.6 272.2h5.2M831.8 267.6h5.2M831.8 274.5h5.2M835.9 268.4h5.2M835.9 275.3h5.2M840.1 268.9h5.2M840.1 275.8h5.2M844.2 270.6h5.2M844.2 277.5h5.2M848.3 272.8h5.2M848.3 279.6h5.2M852.5 273.4h5.2M852.5 280.3h5.2M856.6 275h5.2M856.6 281.9h5.2M860.8 276.7h5.2M860.8 283.6h5.2M864.9 276.3h5.2M864.9 283.1h5.2M869 276.2h5.2M869 283h5.2M873.2 277.9h5.2M873.2 284.8h5.2M877.3 279.6h5.2M877.3 286.4h5.2M881.5 280.3h5.2M881.5 287.2h5.2M885.6 281.9h5.2M885.6 288.8h5.2M889.7 282.9h5.2M889.7 289.7h5.2M893.9 282.8h5.2M893.9 289.6h5.2M898 283.9h5.2M898 290.7h5.2M902.2 284.7h5.2M902.2 291.6h5.2M906.3 286.7h5.2M906.3 293.6h5.2M910.4 287.9h5.2M910.4 294.7h5.2M914.6 291.4h5.2M914.6 298.3h5.2M918.7 297h5.2M918.7 303.8h5.2M922.9 314.1h5.2M922.9 321h5.2M927 375.8h5.2M927 382.7h5.2"/>
</g>
<g stroke="#bfbf00">
<path class="ln" d="M101.6 209.2L105.7 183.9L109.9 161.9L114 148.2L118.2 139L122.3 131.9L126.4 125L130.6 117L134.7 108.5L138.9 100L143 91.8L147.1 83.7L151.3 75.6L155.4 67.3L159.6 58.8L163.7 50.4L167.8 42.3L172 34.4L176.1 27.5L180.3 21.5L184.4 16.9L188.5 13.6L192.7 12.7L196.8 15.3L201 19.4L205.1 25.3L209.2 33.2L213.4 43.5L217.5 55.7L221.7 70.5L225.8 86.9L229.9 105.8L234.1 127.9L238.2 152.2L242.4 176.7L246.5 204.8L250.6 236.3L254.8 270.2L258.9 305.9L263.1 342.7L267.2 379.9L271.3 416.7L275.5 452.5L279.6 486.5L283.8 518L287.9 545.3L292 576.5L296.2 611.2L300.3 638.7L304.5 656.6L308.6 670.5L312.7 682.1L316.9 690.5L321 694.7L325.2 696L329.3 696.6"/>
<path class="eb" d="M99 208.4h5.2M99 210.1h5.2M103.1 183h5.2M103.1 184.7h5.2M107.3 161.1h5.2M107.3 162.8h5.2M111.4 147.4h5.2M111.4 149.1h5.2M115.6 138.2h5.2M115.6 139.8h5.2M119.7 131.1h5.2M119.7 132.7h5.2M123.8 124.2h5.2M123.8 125.8h5.2M128 116.2h5.2M128 117.8h5.2M132.1 107.7h5.2M132.1 109.3h5.2M136.3 99.2h5.2M136.3 100.8h5.2M140.4 90.9h5.2M140.4 92.6h5.2M144.5 82.9h5.2M144.5 84.5h5.2M148.7 74.8h5.2M148.7 76.4h5.2M152.8 66.5h5.2M152.8 68.1h5.2M157 57.9h5.2M157 59.6h5.2M161.1 49.5h5.2M161.1 51.2h5.2M165.2 41.5h5.2M165.2 43.1h5.2M169.4 33.6h5.2M169.4 35.2h5.2M173.5 26.7h5.2M173.5 28.4h5.2M177.7 20.6h5.2M177.7 22.3h5.2M181.8 16.1h5.2M181.8 17.8h5.2M185.9 12.7h5.2M185.9 14.4h5.2M190.1 11.8h5.2M190.1 13.5h5.2M194.2 14.5h5.2M194.2 16.1h5.2M198.4 18.5h5.2M198.4 20.2h5.2M202.5 24.5h5.2M202.5 26.2h5.2M206.6 32.4h5.2M206.6 34h5.2M210.8 42.6h5.2M210.8 44.3h5.2M214.9 54.9h5.2M214.9 56.6h5.2M219.1 69.6h5.2M219.1 71.3h5.2M223.2 86.1h5.2M223.2 87.8h5.2M227.3 104.9h5.2M227.3 106.6h5.2M231.5 127.1h5.2M231.5 128.8h5.2M235.6 151.4h5.2M235.6 153.1h5.2M239.8 175.9h5.2M239.8 177.6h5.2M243.9 204h5.2M243.9 205.7h5.2M248 235.4h5.2M248 237.1h5.2M252.2 269.3h5.2M252.2 271.1h5.2M256.3 305.1h5.2M256.3 306.8h5.2M260.5 341.8h5.2M260.5 343.7h5.2M264.6 379h5.2M264.6 380.9h5.2M268.7 415.7h5.2M268.7 417.7h5.2M272.9 451.4h5.2M272.9 453.6h5.2M277 485.3h5.2M277 487.6h5.2M281.2 516.7h5.2M281.2 519.3h5.2M285.3 543.8h5.2M285.3 546.7h5.2M289.4 574.8h5.2M289.4 578.1h5.2M293.6 609.2h5.2M293.6 613.2h5.2M297.7 636.3h5.2M297.7 641h5.2M301.9 653.9h5.2M301.9 659.2h5.2M306 667.1h5.2M306 674h5.2M310.1 676h5.2M310.1 688.3h5.2M314.3 676.8h5.2M314.3 704.2h5.2M318.4 681.7h5.2M318.4 707.7h5.2M322.6 682.3h5.2M322.6 709.7h5.2M326.7 676.1h5.2M326.7 717.2h5.2"/>
</g>
<g stroke="#0000ff">
<path class="ln" d="M101.6 122.9L105.7 94.8L109.9 82.4L114 76.2L118.2 71.5L122.3 67.6L126.4 64.2L130.6 60.9L134.7 57.8L138.9 55.1L143 52.6L147.1 50.4L151.3 48.2L155.4 46.3L159.6 44.5L163.7 42.7L167.8 41L172 39.4L176.1 37.9L180.3 36.5L184.4 35.1L188.5 33.8L192.7 32.5L196.8 31.3L201 30.1L205.1 29L209.2 27.9L213.4 26.9L217.5 25.9L221.7 25L225.8 24.1L229.9 23.2L234.1 22.4L238.2 21.6L242.4 20.9L246.5 20.2L250.6 19.5L254.8 18.9L258.9 18.3L263.1 17.8L267.2 17.3L271.3 16.9L275.5 16.5L279.6 16.1L283.8 15.8L287.9 15.5L292 15.2L296.2 15L300.3 14.8L304.5 14.7L308.6 14.6L312.7 14.7L316.9 14.8L321 15.1L325.2 15.4L329.3 15.9L333.4 16.6L337.6 17.4L341.7 18.5L345.9 19.7L350 21.1L354.1 22.8L358.3 24.7L362.4 26.7L366.6 29.1L370.7 31.6L374.8 34.4L379 37.4L383.1 40.6L387.3 44.1L391.4 47.8L395.5 51.8L399.7 56L403.8 60.5L408 65.3L412.1 70.2L416.2 75.4L420.4 80.8L424.5 86.4L428.7 92.2L432.8 98.2L436.9 104.4L441.1 110.7L445.2 117.2L449.4 123.9L453.5 130.7L457.6 137.7L461.8 144.8L465.9 152L470.1 159.2L474.2 166.5L478.3 173.9L482.5 181.4L486.6 188.9L490.8 196.5L494.9 204.2L499 212L503.2 219.8L507.3 227.7L511.5 235.7L515.6 243.7L519.7 251.7L523.9 259.8L528 267.8L532.2 275.8L536.3 283.7L540.4 291.5L544.6 299.2L548.7 306.9L552.9 314.4L557 321.9L561.1 329.3L565.3 336.6L569.4 343.9L573.6 351.1L577.7 358.2L581.8 365.2L586 372L590.1 378.7L594.3 385.1L598.4 391.4L602.5 397.4L606.7 403.2L610.8 409L615 414.7L619.1 420.4L623.2 426.1L627.4 431.9L631.5 437.6L635.7 443.3L639.8 448.9L643.9 454.5L648.1 459.9L652.2 465.3L656.4 470.5L660.5 475.7L664.6 480.9L668.8 486L672.9 491.1L677.1 496.1L681.2 501.1L685.3 506L689.5 510.9L693.6 515.7L697.8 520.3L701.9 524.9L706 529.4L710.2 533.8L714.3 538.2L718.5 542.4L722.6 546.5L726.7 550.6L730.9 554.5L735 558.3L739.2 562L743.3 565.6L747.4 569.1L751.6 572.5L755.7 575.8L759.9 579L764 582.3L768.1 585.4L772.3 588.6L776.4 591.7L780.6 594.7L784.7 597.8L788.8 600.8L793 603.8L797.1 606.8L801.3 609.8L805.4 612.7L809.5 615.6L813.7 618.5L817.8 621.3L822 624.1L826.1 626.8L830.2 629.5L834.4 632.1L838.5 634.7L842.7 637.3L846.8 639.8L850.9 642.3L855.1 644.8L859.2 647.1L863.4 649.5L867.5 651.7L871.6 653.9L875.8 656.1L879.9 658.1L884.1 660.2L888.2 662.2L892.3 664.1L896.5 666.1L900.6 668L904.8 669.9L908.9 671.8L913 673.6L917.2 675.4L921.3 677L925.5 678.3L929.6 679.5"/>
<path class="eb" d="M99 122h5.2M99 123.7h5.2M103.1 93.9h5.2M103.1 95.6h5.2M107.3 81.6h5.2M107.3 83.2h5.2M111.4 75.3h5.2M111.4 77h5.2M115.6 70.7h5.2M115.6 72.4h5.2M119.7 66.8h5.2M119.7 68.5h5.2M123.8 63.3h5.2M123.8 65h5.2M128 60.1h5.2M128 61.7h5.2M132.1 57h5.2M132.1 58.6h5.2M136.3 54.2h5.2M136.3 55.9h5.2M140.4 51.8h5.2M140.4 53.5h5.2M144.5 49.5h5.2M144.5 51.2h5.2M148.7 47.4h5.2M148.7 49.1h5.2M152.8 45.5h5.2M152.8 47.1h5.2M157 43.6h5.2M157 45.3h5.2M161.1 41.9h5.2M161.1 43.5h5.2M165.2 40.2h5.2M165.2 41.9h5.2M169.4 38.6h5.2M169.4 40.3h5.2M173.5 37.1h5.2M173.5 38.8h5.2M177.7 35.7h5.2M177.7 37.3h5.2M181.8 34.3h5.2M181.8 35.9h5.2M185.9 33h5.2M185.9 34.6h5.2M190.1 31.7h5.2M190.1 33.3h5.2M194.2 30.5h5.2M194.2 32.1h5.2M198.4 29.3h5.2M198.4 31h5.2M202.5 28.2h5.2M202.5 29.8h5.2M206.6 27.1h5.2M206.6 28.7h5.2M210.8 26.1h5.2M210.8 27.7h5.2M214.9 25.1h5.2M214.9 26.7h5.2M219.1 24.1h5.2M219.1 25.8h5.2M223.2 23.2h5.2M223.2 24.9h5.2M227.3 22.4h5.2M227.3 24h5.2M231.5 21.6h5.2M231.5 23.2h5.2M235.6 20.8h5.2M235.6 22.4h5.2M239.8 20h5.2M239.8 21.7h5.2M243.9 19.4h5.2M243.9 21h5.2M248 18.7h5.2M248 20.3h5.2M252.2 18.1h5.2M252.2 19.7h5.2M256.3 17.5h5.2M256.3 19.2h5.2M260.5 17h5.2M260.5 18.6h5.2M264.6 16.5h5.2M264.6 18.1h5.2M268.7 16.1h5.2M268.7 17.7h5.2M272.9 15.7h5.2M272.9 17.3h5.2M277 15.3h5.2M277 16.9h5.2M281.2 15h5.2M281.2 16.6h5.2M285.3 14.7h5.2M285.3 16.3h5.2M289.4 14.4h5.2M289.4 16h5.2M293.6 14.2h5.2M293.6 15.8h5.2M297.7 14h5.2M297.7 15.6h5.2M301.9 13.9h5.2M301.9 15.5h5.2M306 13.8h5.2M306 15.5h5.2M310.1 13.9h5.2M310.1 15.5h5.2M314.3 14h5.2M314.3 15.6h5.2M318.4 14.2h5.2M318.4 15.9h5.2M322.6 14.6h5.2M322.6 16.2h5.2M326.7 15.1h5.2M326.7 16.7h5.2M330.8 15.8h5.2M330.8 17.4h5.2M335 16.6h5.2M335 18.3h5.2M339.1 17.6h5.2M339.1 19.3h5.2M343.3 18.9h5.2M343.3 20.5h5.2M347.4 20.3h5.2M347.4 22h5.2M351.5 22h5.2M351.5 23.6h5.2M355.7 23.8h5.2M355.7 25.5h5.2M359.8 25.9h5.2M359.8 27.6h5.2M364 28.2h5.2M364 29.9h5.2M368.1 30.8h5.2M368.1 32.4h5.2M372.2 33.5h5.2M372.2 35.2h5.2M376.4 36.5h5.2M376.4 38.2h5.2M380.5 39.8h5.2M380.5 41.4h5.2M384.7 43.2h5.2M384.7 44.9h5.2M388.8 47h5.2M388.8 48.6h5.2M392.9 50.9h5.2M392.9 52.6h5.2M397.1 55.2h5.2M397.1 56.8h5.2M401.2 59.7h5.2M401.2 61.3h5.2M405.4 64.4h5.2M405.4 66.1h5.2M409.5 69.4h5.2M409.5 71.1h5.2M413.6 74.6h5.2M413.6 76.2h5.2M417.8 80h5.2M417.8 81.6h5.2M421.9 85.6h5.2M421.9 87.2h5.2M426.1 91.4h5.2M426.1 93h5.2M430.2 97.4h5.2M430.2 99h5.2M434.3 103.5h5.2M434.3 105.2h5.2M438.5 109.9h5.2M438.5 111.5h5.2M442.6 116.4h5.2M442.6 118h5.2M446.8 123.1h5.2M446.8 124.7h5.2M450.9 129.9h5.2M450.9 131.6h5.2M455 136.9h5.2M455 138.5h5.2M459.2 144h5.2M459.2 145.6h5.2M463.3 151.1h5.2M463.3 152.8h5.2M467.5 158.4h5.2M467.5 160h5.2M471.6 165.7h5.2M471.6 167.4h5.2M475.7 173.1h5.2M475.7 174.8h5.2M479.9 180.6h5.2M479.9 182.2h5.2M484 188.1h5.2M484 189.8h5.2M488.2 195.7h5.2M488.2 197.4h5.2M492.3 203.4h5.2M492.3 205.1h5.2M496.4 211.2h5.2M496.4 212.8h5.2M500.6 219h5.2M500.6 220.6h5.2M504.7 226.9h5.2M504.7 228.5h5.2M508.9 234.8h5.2M508.9 236.5h5.2M513 242.8h5.2M513 244.5h5.2M517.1 250.9h5.2M517.1 252.6h5.2M521.3 259h5.2M521.3 260.6h5.2M525.4 267h5.2M525.4 268.7h5.2M529.6 275h5.2M529.6 276.6h5.2M533.7 282.9h5.2M533.7 284.6h5.2M537.8 290.7h5.2M537.8 292.4h5.2M542 298.4h5.2M542 300.1h5.2M546.1 306h5.2M546.1 307.7h5.2M550.3 313.5h5.2M550.3 315.2h5.2M554.4 321h5.2M554.4 322.7h5.2M558.5 328.4h5.2M558.5 330.1h5.2M562.7 335.8h5.2M562.7 337.5h5.2M566.8 343.1h5.2M566.8 344.8h5.2M571 350.3h5.2M571 352h5.2M575.1 357.4h5.2M575.1 359.1h5.2M579.2 364.3h5.2M579.2 366.1h5.2M583.4 371.2h5.2M583.4 372.9h5.2M587.5 377.8h5.2M587.5 379.6h5.2M591.7 384.2h5.2M591.7 386h5.2M595.8 390.5h5.2M595.8 392.3h5.2M599.9 396.5h5.2M599.9 398.3h5.2M604.1 402.3h5.2M604.1 404.2h5.2M608.2 408.1h5.2M608.2 409.9h5.2M612.4 413.8h5.2M612.4 415.6h5.2M616.5 419.5h5.2M616.5 421.4h5.2M620.6 425.2h5.2M620.6 427.1h5.2M624.8 430.9h5.2M624.8 432.8h5.2M628.9 436.6h5.2M628.9 438.6h5.2M633.1 442.3h5.2M633.1 444.3h5.2M637.2 447.9h5.2M637.2 449.9h5.2M641.3 453.5h5.2M641.3 455.5h5.2M645.5 458.9h5.2M645.5 461h5.2M649.6 464.2h5.2M649.6 466.3h5.2M653.8 469.5h5.2M653.8 471.6h5.2M657.9 474.6h5.2M657.9 476.8h5.2M662 479.7h5.2M662 482h5.2M666.2 484.8h5.2M666.2 487.1h5.2M670.3 489.9h5.2M670.3 492.2h5.2M674.5 494.9h5.2M674.5 497.3h5.2M678.6 499.9h5.2M678.6 502.3h5.2M682.7 504.8h5.2M682.7 507.3h5.2M686.9 509.6h5.2M686.9 512.2h5.2M691 514.4h5.2M691 517h5.2M695.2 519h5.2M695.2 521.7h5.2M699.3 523.5h5.2M699.3 526.3h5.2M703.4 528h5.2M703.4 530.8h5.2M707.6 532.4h5.2M707.6 535.3h5.2M711.7 536.7h5.2M711.7 539.6h5.2M715.9 540.9h5.2M715.9 543.9h5.2M720 545h5.2M720 548.1h5.2M724.1 548.9h5.2M724.1 552.2h5.2M728.3 552.8h5.2M728.3 556.1h5.2M732.4 556.6h5.2M732.4 560h5.2M736.6 560.2h5.2M736.6 563.7h5.2M740.7 563.7h5.2M740.7 567.4h5.2M744.8 567.2h5.2M744.8 570.9h5.2M749 570.5h5.2M749 574.4h5.2M753.1 573.8h5.2M753.1 577.8h5.2M757.3 577h5.2M757.3 581.1h5.2M761.4 580.2h5.2M761.4 584.3h5.2M765.5 583.3h5.2M765.5 587.6h5.2M769.7 586.3h5.2M769.7 590.8h5.2M773.8 589.4h5.2M773.8 593.9h5.2M778 592.4h5.2M778 597.1h5.2M782.1 595.4h5.2M782.1 600.2h5.2M786.2 598.3h5.2M786.2 603.3h5.2M790.4 601.3h5.2M790.4 606.4h5.2M794.5 604.2h5.2M794.5 609.5h5.2M798.7 607.1h5.2M798.7 612.5h5.2M802.8 609.9h5.2M802.8 615.5h5.2M806.9 612.7h5.2M806.9 618.5h5.2M811.1 615.5h5.2M811.1 621.4h5.2M815.2 618.2h5.2M815.2 624.3h5.2M819.4 620.9h5.2M819.4 627.2h5.2M823.5 623.5h5.2M823.5 630h5.2M827.6 626.1h5.2M827.6 632.8h5.2M831.8 628.7h5.2M831.8 635.6h5.2M835.9 631.2h5.2M835.9 638.3h5.2M840.1 633.7h5.2M840.1 641h5.2M844.2 636.1h5.2M844.2 643.6h5.2M848.3 638.5h5.2M848.3 646.2h5.2M852.5 640.8h5.2M852.5 648.7h5.2M856.6 643.1h5.2M856.6 651.2h5.2M860.8 645.3h5.2M860.8 653.7h5.2M864.9 647.4h5.2M864.9 656h5.2M869 649.5h5.2M869 658.3h5.2M873.2 651.5h5.2M873.2 660.6h5.2M877.3 653.5h5.2M877.3 662.8h5.2M881.5 655.4h5.2M881.5 664.9h5.2M885.6 657.3h5.2M885.6 667h5.2M889.7 659.1h5.2M889.7 669.1h5.2M893.9 660.9h5.2M893.9 671.2h5.2M898 662.7h5.2M898 673.2h5.2M902.2 664.5h5.2M902.2 675.3h5.2M906.3 666.3h5.2M906.3 677.3h5.2M910.4 668h5.2M910.4 679.3h5.2M914.6 669.6h5.2M914.6 681.1h5.2M918.7 671.1h5.2M918.7 682.8h5.2M922.9 672.4h5.2M922.9 684.3h5.2M927 673.4h5.2M927 685.5h5.2"/>
</g>
<g stroke="#00bfbf">
<path class="ln" d="M101.6 155.8L105.7 120.1L109.9 105.7L114 98.9L118.2 93.8L122.3 89.1L126.4 85.9L130.6 82L134.7 79.1L138.9 76.5L143 73.8L147.1 72.1L151.3 69.6L155.4 68.5L159.6 66.6L163.7 65.2L167.8 63.9L172 62.2L176.1 61.1L180.3 59.7L184.4 58.7L188.5 57.8L192.7 56.4L196.8 55.3L201 54L205.1 53.5L209.2 52.3L213.4 51.8L217.5 50.2L221.7 49.9L225.8 49.3L229.9 48L234.1 46.9L238.2 46.9L242.4 46L246.5 45.2L250.6 44.5L254.8 43.3L258.9 42.9L263.1 42.2L267.2 41.2L271.3 41L275.5 40.1L279.6 39.9L283.8 39.4L287.9 39L292 37.5L296.2 37.5L300.3 36.8L304.5 36.3L308.6 35.6L312.7 35.1L316.9 34L321 34.3L325.2 33.9L329.3 33.2L333.4 32.8L337.6 31.7L341.7 31.2L345.9 31.2L350 30.9L354.1 30.1L358.3 29.2L362.4 29.9L366.6 28.5L370.7 28.5L374.8 27.4L379 27.6L383.1 26.9L387.3 26.8L391.4 26.2L395.5 25.1L399.7 24.8L403.8 24.7L408 24.4L412.1 24.2L416.2 23.4L420.4 23L424.5 22.6L428.7 22.3L432.8 22.2L436.9 21.6L441.1 21.3L445.2 20.6L449.4 20.2L453.5 20.4L457.6 20.3L461.8 19.9L465.9 19.8L470.1 19.6L474.2 19.1L478.3 19.2L482.5 18.5L486.6 18.5L490.8 18.3L494.9 18.2L499 18.2L503.2 18.1L507.3 17.7L511.5 17.6L515.6 17.3L519.7 17.2L523.9 17.4L528 16.9L532.2 17.1L536.3 16.8L540.4 16.6L544.6 17L548.7 16.2L552.9 16.1L557 16.1L561.1 16.1L565.3 15.9L569.4 16L573.6 15.7L577.7 15.7L581.8 15.4L586 15.7L590.1 15.2L594.3 15.2L598.4 15.2L602.5 15.2L606.7 14.8L610.8 15.4L615 14.8L619.1 14.8L623.2 14.7L627.4 14.7L631.5 14.9L635.7 14.8L639.8 14.5L643.9 14.5L648.1 14.6L652.2 15L656.4 14.4L660.5 14.2L664.6 14.3L668.8 14.5L672.9 15L677.1 14.4L681.2 14.7L685.3 15.5L689.5 14.8L693.6 15.4L697.8 15.4L701.9 15.3L706 14.9L710.2 15.5L714.3 15.4L718.5 15.2L722.6 15.4L726.7 16.1L730.9 16.3L735 16.8L739.2 16.9L743.3 16.8L747.4 17.1L751.6 17.5L755.7 17.5L759.9 18.3L764 18.5L768.1 18.7L772.3 19.2L776.4 19.6L780.6 20.3L784.7 20.9L788.8 21.1L793 21.9L797.1 22.4L801.3 22.2L805.4 22.8L809.5 23.3L813.7 24.5L817.8 24.8L822 25.6L826.1 26.3L830.2 27.4L834.4 27.5L838.5 27.8L842.7 28.6L846.8 29.5L850.9 30.1L855.1 30.6L859.2 32.4L863.4 32.5L867.5 33.1L871.6 33.8L875.8 34.3L879.9 35.2L884.1 36.2L888.2 37L892.3 37.7L896.5 39.1L900.6 40.1L904.8 41L908.9 42L913 43.9L917.2 45.4L921.3 47.6L925.5 52.3L929.6 85.8"/>
<path class="eb" d="M99 154.7h5.2M99 156.8h5.2M103.1 119.1h5.2M103.1 121.2h5.2M107.3 104.7h5.2M107.3 106.8h5.2M111.4 97.9h5.2M111.4 99.9h5.2M115.6 92.7h5.2M115.6 94.8h5.2M119.7 88.1h5.2M119.7 90.1h5.2M123.8 84.9h5.2M123.8 86.9h5.2M128 81h5.2M128 83.1h5.2M132.1 78.1h5.2M132.1 80.2h5.2M136.3 75.5h5.2M136.3 77.6h5.2M140.4 72.7h5.2M140.4 74.8h5.2M144.5 71.1h5.2M144.5 73.1h5.2M148.7 68.6h5.2M148.7 70.7h5.2M152.8 67.5h5.2M152.8 69.5h5.2M157 65.5h5.2M157 67.6h5.2M161.1 64.2h5.2M161.1 66.2h5.2M165.2 62.9h5.2M165.2 64.9h5.2M169.4 61.1h5.2M169.4 63.2h5.2M173.5 60.1h5.2M173.5 62.1h5.2M177.7 58.6h5.2M177.7 60.7h5.2M181.8 57.6h5.2M181.8 59.7h5.2M185.9 56.8h5.2M185.9 58.9h5.2M190.1 55.4h5.2M190.1 57.5h5.2M194.2 54.3h5.2M194.2 56.3h5.2M198.4 53h5.2M198.4 55h5.2M202.5 52.4h5.2M202.5 54.5h5.2M206.6 51.2h5.2M206.6 53.3h5.2M210.8 50.7h5.2M210.8 52.8h5.2M214.9 49.2h5.2M214.9 51.3h5.2M219.1 48.8h5.2M219.1 50.9h5.2M223.2 48.2h5.2M223.2 50.3h5.2M227.3 47h5.2M227.3 49h5.2M231.5 45.9h5.2M231.5 48h5.2M235.6 45.9h5.2M235.6 47.9h5.2M239.8 45h5.2M239.8 47h5.2M243.9 44.1h5.2M243.9 46.2h5.2M248 43.5h5.2M248 45.5h5.2M252.2 42.3h5.2M252.2 44.3h5.2M256.3 41.9h5.2M256.3 43.9h5.2M260.5 41.2h5.2M260.5 43.2h5.2M264.6 40.2h5.2M264.6 42.2h5.2M268.7 39.9h5.2M268.7 42h5.2M272.9 39h5.2M272.9 41.1h5.2M277 38.9h5.2M277 40.9h5.2M281.2 38.4h5.2M281.2 40.5h5.2M285.3 38h5.2M285.3 40.1h5.2M289.4 36.4h5.2M289.4 38.5h5.2M293.6 36.5h5.2M293.6 38.5h5.2M297.7 35.7h5.2M297.7 37.8h5.2M301.9 35.2h5.2M301.9 37.3h5.2M306 34.6h5.2M306 36.7h5.2M310.1 34.1h5.2M310.1 36.1h5.2M314.3 33h5.2M314.3 35h5.2M318.4 33.2h5.2M318.4 35.3h5.2M322.6 32.9h5.2M322.6 34.9h5.2M326.7 32.2h5.2M326.7 34.2h5.2M330.8 31.8h5.2M330.8 33.8h5.2M335 30.7h5.2M335 32.8h5.2M339.1 30.2h5.2M339.1 32.3h5.2M343.3 30.2h5.2M343.3 32.3h5.2M347.4 29.8h5.2M347.4 31.9h5.2M351.5 29.1h5.2M351.5 31.1h5.2M355.7 28.1h5.2M355.7 30.2h5.2M359.8 28.8h5.2M359.8 30.9h5.2M364 27.5h5.2M364 29.5h5.2M368.1 27.4h5.2M368.1 29.5h5.2M372.2 26.4h5.2M372.2 28.5h5.2M376.4 26.5h5.2M376.4 28.6h5.2M380.5 25.9h5.2M380.5 27.9h5.2M384.7 25.7h5.2M384.7 27.8h5.2M388.8 25.1h5.2M388.8 27.2h5.2M392.9 24h5.2M392.9 26.1h5.2M397.1 23.8h5.2M397.1 25.8h5.2M401.2 23.7h5.2M401.2 25.7h5.2M405.4 23.4h5.2M405.4 25.4h5.2M409.5 23.2h5.2M409.5 25.3h5.2M413.6 22.4h5.2M413.6 24.5h5.2M417.8 21.9h5.2M417.8 24h5.2M421.9 21.6h5.2M421.9 23.6h5.2M426.1 21.2h5.2M426.1 23.3h5.2M430.2 21.2h5.2M430.2 23.2h5.2M434.3 20.6h5.2M434.3 22.6h5.2M438.5 20.3h5.2M438.5 22.3h5.2M442.6 19.6h5.2M442.6 21.6h5.2M446.8 19.1h5.2M446.8 21.2h5.2M450.9 19.4h5.2M450.9 21.5h5.2M455 19.3h5.2M455 21.3h5.2M459.2 18.8h5.2M459.2 20.9h5.2M463.3 18.7h5.2M463.3 20.8h5.2M467.5 18.5h5.2M467.5 20.6h5.2M471.6 18.1h5.2M471.6 20.2h5.2M475.7 18.2h5.2M475.7 20.2h5.2M479.9 17.5h5.2M479.9 19.6h5.2M484 17.5h5.2M484 19.6h5.2M488.2 17.2h5.2M488.2 19.3h5.2M492.3 17.2h5.2M492.3 19.2h5.2M496.4 17.1h5.2M496.4 19.2h5.2M500.6 17h5.2M500.6 19.1h5.2M504.7 16.7h5.2M504.7 18.7h5.2M508.9 16.6h5.2M508.9 18.7h5.2M513 16.2h5.2M513 18.3h5.2M517.1 16.2h5.2M517.1 18.2h5.2M521.3 16.4h5.2M521.3 18.4h5.2M525.4 15.9h5.2M525.4 17.9h5.2M529.6 16.1h5.2M529.6 18.2h5.2M533.7 15.8h5.2M533.7 17.8h5.2M537.8 15.6h5.2M537.8 17.6h5.2M542 15.9h5.2M542 18h5.2M546.1 15.2h5.2M546.1 17.3h5.2M550.3 15.1h5.2M550.3 17.1h5.2M554.4 15.1h5.2M554.4 17.1h5.2M558.5 15h5.2M558.5 17.1h5.2M562.7 14.9h5.2M562.7 17h5.2M566.8 15h5.2M566.8 17h5.2M571 14.7h5.2M571 16.7h5.2M575.1 14.7h5.2M575.1 16.7h5.2M579.2 14.4h5.2M579.2 16.5h5.2M583.4 14.7h5.2M583.4 16.7h5.2M587.5 14.2h5.2M587.5 16.3h5.2M591.7 14.1h5.2M591.7 16.2h5.2M595.8 14.1h5.2M595.8 16.2h5.2M599.9 14.2h5.2M599.9 16.2h5.2M604.1 13.8h5.2M604.1 15.9h5.2M608.2 14.4h5.2M608.2 16.4h5.2M612.4 13.7h5.2M612.4 15.8h5.2M616.5 13.8h5.2M616.5 15.8h5.2M620.6 13.7h5.2M620.6 15.8h5.2M624.8 13.6h5.2M624.8 15.7h5.2M628.9 13.9h5.2M628.9 15.9h5.2M633.1 13.7h5.2M633.1 15.8h5.2M637.2 13.5h5.2M637.2 15.5h5.2M641.3 13.5h5.2M641.3 15.5h5.2M645.5 13.5h5.2M645.5 15.6h5.2M649.6 14h5.2M649.6 16h5.2M653.8 13.4h5.2M653.8 15.5h5.2M657.9 13.2h5.2M657.9 15.3h5.2M662 13.3h5.2M662 15.3h5.2M666.2 13.5h5.2M666.2 15.5h5.2M670.3 14h5.2M670.3 16.1h5.2M674.5 13.4h5.2M674.5 15.4h5.2M678.6 13.7h5.2M678.6 15.8h5.2M682.7 14.4h5.2M682.7 16.5h5.2M686.9 13.7h5.2M686.9 15.8h5.2M691 14.3h5.2M691 16.4h5.2M695.2 14.4h5.2M695.2 16.4h5.2M699.3 14.3h5.2M699.3 16.3h5.2M703.4 13.9h5.2M703.4 15.9h5.2M707.6 14.4h5.2M707.6 16.5h5.2M711.7 14.4h5.2M711.7 16.5h5.2M715.9 14.2h5.2M715.9 16.2h5.2M720 14.4h5.2M720 16.4h5.2M724.1 15h5.2M724.1 17.1h5.2M728.3 15.3h5.2M728.3 17.4h5.2M732.4 15.8h5.2M732.4 17.9h5.2M736.6 15.9h5.2M736.6 17.9h5.2M740.7 15.8h5.2M740.7 17.9h5.2M744.8 16.1h5.2M744.8 18.1h5.2M749 16.4h5.2M749 18.5h5.2M753.1 16.5h5.2M753.1 18.5h5.2M757.3 17.3h5.2M757.3 19.4h5.2M761.4 17.5h5.2M761.4 19.5h5.2M765.5 17.7h5.2M765.5 19.7h5.2M769.7 18.2h5.2M769.7 20.3h5.2M773.8 18.6h5.2M773.8 20.7h5.2M778 19.3h5.2M778 21.3h5.2M782.1 19.9h5.2M782.1 22h5.2M786.2 20.1h5.2M786.2 22.2h5.2M790.4 20.9h5.2M790.4 22.9h5.2M794.5 21.4h5.2M794.5 23.4h5.2M798.7 21.2h5.2M798.7 23.2h5.2M802.8 21.8h5.2M802.8 23.9h5.2M806.9 22.3h5.2M806.9 24.3h5.2M811.1 23.5h5.2M811.1 25.5h5.2M815.2 23.8h5.2M815.2 25.8h5.2M819.4 24.6h5.2M819.4 26.6h5.2M823.5 25.3h5.2M823.5 27.4h5.2M827.6 26.3h5.2M827.6 28.4h5.2M831.8 26.5h5.2M831.8 28.5h5.2M835.9 26.8h5.2M835.9 28.8h5.2M840.1 27.5h5.2M840.1 29.6h5.2M844.2 28.5h5.2M844.2 30.5h5.2M848.3 29.1h5.2M848.3 31.1h5.2M852.5 29.6h5.2M852.5 31.7h5.2M856.6 31.4h5.2M856.6 33.4h5.2M860.8 31.4h5.2M860.8 33.5h5.2M864.9 32.1h5.2M864.9 34.1h5.2M869 32.8h5.2M869 34.9h5.2M873.2 33.3h5.2M873.2 35.3h5.2M877.3 34.2h5.2M877.3 36.2h5.2M881.5 35.1h5.2M881.5 37.2h5.2M885.6 36h5.2M885.6 38h5.2M889.7 36.7h5.2M889.7 38.8h5.2M893.9 38.1h5.2M893.9 40.1h5.2M898 39h5.2M898 41.1h5.2M902.2 40h5.2M902.2 42h5.2M906.3 41h5.2M906.3 43h5.2M910.4 42.9h5.2M910.4 44.9h5.2M914.6 44.4h5.2M914.6 46.4h5.2M918.7 46.6h5.2M918.7 48.7h5.2M922.9 51.2h5.2M922.9 53.3h5.2M927 84.8h5.2M927 86.9h5.2"/>
</g>
<g stroke="#bf00bf">
<path class="ln" d="M101.6 197.6L105.7 170.9L109.9 153L114 146.2L118.2 141.2L122.3 137.8L126.4 135.7L130.6 132.6L134.7 129.4L138.9 126.9L143 124.7L147.1 121.6L151.3 119.5L155.4 117.4L159.6 115.8L163.7 113.6L167.8 112.3L172 110.5L176.1 109.7L180.3 108.5L184.4 107L188.5 106.1L192.7 104.5L196.8 103.6L201 102.8L205.1 101.6L209.2 100.7L213.4 99.4L217.5 98.9L221.7 98L225.8 96.6L229.9 95.5L234.1 94.8L238.2 94.5L242.4 93.6L246.5 92.4L250.6 92.1L254.8 91.5L258.9 90.4L263.1 89.6L267.2 89.2L271.3 88.7L275.5 87.9L279.6 86.6L283.8 86.3L287.9 85.5L292 84.9L296.2 84.3L300.3 84.1L304.5 83.4L308.6 83.4L312.7 82.8L316.9 82.6L321 81.6L325.2 81.4L329.3 81.2L333.4 80.6L337.6 80L341.7 79.2L345.9 79.3L350 78.7L354.1 77.9L358.3 76.6L362.4 76.5L366.6 76.2L370.7 75.4L374.8 74.5L379 74.6L383.1 74L387.3 73L391.4 72.6L395.5 71.9L399.7 71.6L403.8 70.3L408 69.8L412.1 69.5L416.2 68.9L420.4 69L424.5 67.7L428.7 67.4L432.8 66.7L436.9 66.1L441.1 65.9L445.2 65.7L449.4 64.6L453.5 64.4L457.6 63.8L461.8 63.4L465.9 62.8L470.1 62.9L474.2 61.4L478.3 61.2L482.5 60.5L486.6 59.8L490.8 59.9L494.9 60L499 59.3L503.2 58.9L507.3 58.3L511.5 57.7L515.6 57.8L519.7 56.7L523.9 56.8L528 55.8L532.2 55.4L536.3 54.9L540.4 54.4L544.6 54L548.7 53.4L552.9 53.2L557 52.2L561.1 51.1L565.3 50.5L569.4 50.1L573.6 49.7L577.7 49.5L581.8 48.3L586 48.1L590.1 47.5L594.3 47L598.4 46.3L602.5 45.8L606.7 45.1L610.8 44.8L615 44.1L619.1 42.8L623.2 42.9L627.4 42.4L631.5 41.6L635.7 41L639.8 41L643.9 40.2L648.1 39.3L652.2 39L656.4 38.5L660.5 37.6L664.6 37.8L668.8 37.1L672.9 36.8L677.1 35.8L681.2 36.3L685.3 35.5L689.5 35L693.6 34.2L697.8 33.8L701.9 33.1L706 33.5L710.2 32.4L714.3 32.3L718.5 31.9L722.6 31.1L726.7 31L730.9 30.8L735 29.9L739.2 29.7L743.3 29L747.4 28.3L751.6 27.9L755.7 27.1L759.9 27.2L764 27.2L768.1 26.6L772.3 26.4L776.4 26.1L780.6 25.4L784.7 25.4L788.8 25.4L793 24.4L797.1 24.2L801.3 23.7L805.4 23.3L809.5 22.6L813.7 22.3L817.8 21.4L822 21.1L826.1 20.7L830.2 20.3L834.4 20.4L838.5 19.6L842.7 19.3L846.8 18.8L850.9 18.8L855.1 17.7L859.2 17.8L863.4 17.8L867.5 17.6L871.6 16.9L875.8 16.6L879.9 16.4L884.1 15.9L888.2 15.8L892.3 15.2L896.5 15.3L900.6 15L904.8 14.6L908.9 14L913 14.9L917.2 14.7L921.3 14.9L925.5 17.3L929.6 50.2"/>
<path class="eb" d="M99 196.2h5.2M99 199h5.2M103.1 169.5h5.2M103.1 172.2h5.2M107.3 151.7h5.2M107.3 154.4h5.2M111.4 144.8h5.2M111.4 147.5h5.2M115.6 139.8h5.2M115.6 142.5h5.2M119.7 136.4h5.2M119.7 139.2h5.2M123.8 134.4h5.2M123.8 137.1h5.2M128 131.3h5.2M128 134h5.2M132.1 128h5.2M132.1 130.7h5.2M136.3 125.5h5.2M136.3 128.3h5.2M140.4 123.3h5.2M140.4 126h5.2M144.5 120.3h5.2M144.5 123h5.2M148.7 118.2h5.2M148.7 120.9h5.2M152.8 116.1h5.2M152.8 118.8h5.2M157 114.4h5.2M157 117.1h5.2M161.1 112.2h5.2M161.1 114.9h5.2M165.2 111h5.2M165.2 113.7h5.2M169.4 109.1h5.2M169.4 111.9h5.2M173.5 108.4h5.2M173.5 111.1h5.2M177.7 107.1h5.2M177.7 109.8h5.2M181.8 105.6h5.2M181.8 108.3h5.2M185.9 104.7h5.2M185.9 107.4h5.2M190.1 103.2h5.2M190.1 105.9h5.2M194.2 102.2h5.2M194.2 104.9h5.2M198.4 101.5h5.2M198.4 104.2h5.2M202.5 100.2h5.2M202.5 102.9h5.2M206.6 99.3h5.2M206.6 102.1h5.2M210.8 98h5.2M210.8 100.8h5.2M214.9 97.5h5.2M214.9 100.3h5.2M219.1 96.6h5.2M219.1 99.3h5.2M223.2 95.3h5.2M223.2 98h5.2M227.3 94.2h5.2M227.3 96.9h5.2M231.5 93.4h5.2M231.5 96.1h5.2M235.6 93.1h5.2M235.6 95.9h5.2M239.8 92.2h5.2M239.8 95h5.2M243.9 91.1h5.2M243.9 93.8h5.2M248 90.7h5.2M248 93.5h5.2M252.2 90.1h5.2M252.2 92.9h5.2M256.3 89.1h5.2M256.3 91.8h5.2M260.5 88.2h5.2M260.5 90.9h5.2M264.6 87.8h5.2M264.6 90.6h5.2M268.7 87.3h5.2M268.7 90h5.2M272.9 86.5h5.2M272.9 89.3h5.2M277 85.2h5.2M277 88h5.2M281.2 85h5.2M281.2 87.7h5.2M285.3 84.2h5.2M285.3 86.9h5.2M289.4 83.5h5.2M289.4 86.3h5.2M293.6 82.9h5.2M293.6 85.7h5.2M297.7 82.7h5.2M297.7 85.5h5.2M301.9 82.1h5.2M301.9 84.8h5.2M306 82h5.2M306 84.8h5.2M310.1 81.5h5.2M310.1 84.2h5.2M314.3 81.2h5.2M314.3 84h5.2M318.4 80.2h5.2M318.4 83h5.2M322.6 80.1h5.2M322.6 82.8h5.2M326.7 79.8h5.2M326.7 82.5h5.2M330.8 79.2h5.2M330.8 81.9h5.2M335 78.6h5.2M335 81.4h5.2M339.1 77.9h5.2M339.1 80.6h5.2M343.3 78h5.2M343.3 80.7h5.2M347.4 77.3h5.2M347.4 80h5.2M351.5 76.6h5.2M351.5 79.3h5.2M355.7 75.2h5.2M355.7 78h5.2M359.8 75.1h5.2M359.8 77.8h5.2M364 74.8h5.2M364 77.6h5.2M368.1 74.1h5.2M368.1 76.8h5.2M372.2 73.1h5.2M372.2 75.9h5.2M376.4 73.2h5.2M376.4 75.9h5.2M380.5 72.6h5.2M380.5 75.4h5.2M384.7 71.6h5.2M384.7 74.4h5.2M388.8 71.2h5.2M388.8 73.9h5.2M392.9 70.5h5.2M392.9 73.3h5.2M397.1 70.3h5.2M397.1 73h5.2M401.2 69h5.2M401.2 71.7h5.2M405.4 68.4h5.2M405.4 71.2h5.2M409.5 68.1h5.2M409.5 70.9h5.2M413.6 67.5h5.2M413.6 70.2h5.2M417.8 67.7h5.2M417.8 70.4h5.2M421.9 66.4h5.2M421.9 69.1h5.2M426.1 66h5.2M426.1 68.8h5.2M430.2 65.3h5.2M430.2 68.1h5.2M434.3 64.7h5.2M434.3 67.5h5.2M438.5 64.5h5.2M438.5 67.2h5.2M442.6 64.3h5.2M442.6 67.1h5.2M446.8 63.3h5.2M446.8 66h5.2M450.9 63.1h5.2M450.9 65.8h5.2M455 62.4h5.2M455 65.2h5.2M459.2 62h5.2M459.2 64.8h5.2M463.3 61.5h5.2M463.3 64.2h5.2M467.5 61.5h5.2M467.5 64.3h5.2M471.6 60.1h5.2M471.6 62.8h5.2M475.7 59.9h5.2M475.7 62.6h5.2M479.9 59.2h5.2M479.9 61.9h5.2M484 58.5h5.2M484 61.2h5.2M488.2 58.5h5.2M488.2 61.3h5.2M492.3 58.6h5.2M492.3 61.3h5.2M496.4 57.9h5.2M496.4 60.7h5.2M500.6 57.6h5.2M500.6 60.3h5.2M504.7 56.9h5.2M504.7 59.7h5.2M508.9 56.3h5.2M508.9 59.1h5.2M513 56.4h5.2M513 59.2h5.2M517.1 55.3h5.2M517.1 58.1h5.2M521.3 55.4h5.2M521.3 58.1h5.2M525.4 54.4h5.2M525.4 57.1h5.2M529.6 54h5.2M529.6 56.8h5.2M533.7 53.6h5.2M533.7 56.3h5.2M537.8 53h5.2M537.8 55.7h5.2M542 52.6h5.2M542 55.3h5.2M546.1 52.1h5.2M546.1 54.8h5.2M550.3 51.8h5.2M550.3 54.6h5.2M554.4 50.8h5.2M554.4 53.6h5.2M558.5 49.8h5.2M558.5 52.5h5.2M562.7 49.2h5.2M562.7 51.9h5.2M566.8 48.8h5.2M566.8 51.5h5.2M571 48.4h5.2M571 51.1h5.2M575.1 48.1h5.2M575.1 50.9h5.2M579.2 47h5.2M579.2 49.7h5.2M583.4 46.8h5.2M583.4 49.5h5.2M587.5 46.2h5.2M587.5 48.9h5.2M591.7 45.6h5.2M591.7 48.4h5.2M595.8 44.9h5.2M595.8 47.6h5.2M599.9 44.5h5.2M599.9 47.2h5.2M604.1 43.8h5.2M604.1 46.5h5.2M608.2 43.5h5.2M608.2 46.2h5.2M612.4 42.7h5.2M612.4 45.5h5.2M616.5 41.4h5.2M616.5 44.2h5.2M620.6 41.5h5.2M620.6 44.2h5.2M624.8 41h5.2M624.8 43.7h5.2M628.9 40.2h5.2M628.9 43h5.2M633.1 39.6h5.2M633.1 42.4h5.2M637.2 39.6h5.2M637.2 42.3h5.2M641.3 38.8h5.2M641.3 41.6h5.2M645.5 38h5.2M645.5 40.7h5.2M649.6 37.6h5.2M649.6 40.4h5.2M653.8 37.2h5.2M653.8 39.9h5.2M657.9 36.3h5.2M657.9 39h5.2M662 36.4h5.2M662 39.1h5.2M666.2 35.7h5.2M666.2 38.4h5.2M670.3 35.4h5.2M670.3 38.1h5.2M674.5 34.4h5.2M674.5 37.1h5.2M678.6 34.9h5.2M678.6 37.6h5.2M682.7 34.1h5.2M682.7 36.8h5.2M686.9 33.6h5.2M686.9 36.3h5.2M691 32.8h5.2M691 35.6h5.2M695.2 32.4h5.2M695.2 35.2h5.2M699.3 31.8h5.2M699.3 34.5h5.2M703.4 32.1h5.2M703.4 34.9h5.2M707.6 31h5.2M707.6 33.8h5.2M711.7 30.9h5.2M711.7 33.6h5.2M715.9 30.5h5.2M715.9 33.3h5.2M720 29.7h5.2M720 32.5h5.2M724.1 29.6h5.2M724.1 32.4h5.2M728.3 29.5h5.2M728.3 32.2h5.2M732.4 28.5h5.2M732.4 31.3h5.2M736.6 28.4h5.2M736.6 31.1h5.2M740.7 27.7h5.2M740.7 30.4h5.2M744.8 26.9h5.2M744.8 29.7h5.2M749 26.5h5.2M749 29.2h5.2M753.1 25.7h5.2M753.1 28.5h5.2M757.3 25.8h5.2M757.3 28.6h5.2M761.4 25.8h5.2M761.4 28.6h5.2M765.5 25.3h5.2M765.5 28h5.2M769.7 25h5.2M769.7 27.7h5.2M773.8 24.8h5.2M773.8 27.5h5.2M778 24h5.2M778 26.8h5.2M782.1 24h5.2M782.1 26.8h5.2M786.2 24.1h5.2M786.2 26.8h5.2M790.4 23h5.2M790.4 25.7h5.2M794.5 22.9h5.2M794.5 25.6h5.2M798.7 22.3h5.2M798.7 25.1h5.2M802.8 21.9h5.2M802.8 24.7h5.2M806.9 21.3h5.2M806.9 24h5.2M811.1 20.9h5.2M811.1 23.6h5.2M815.2 20h5.2M815.2 22.8h5.2M819.4 19.8h5.2M819.4 22.5h5.2M823.5 19.3h5.2M823.5 22.1h5.2M827.6 18.9h5.2M827.6 21.6h5.2M831.8 19h5.2M831.8 21.7h5.2M835.9 18.3h5.2M835.9 21h5.2M840.1 17.9h5.2M840.1 20.6h5.2M844.2 17.4h5.2M844.2 20.1h5.2M848.3 17.5h5.2M848.3 20.2h5.2M852.5 16.3h5.2M852.5 19h5.2M856.6 16.4h5.2M856.6 19.1h5.2M860.8 16.4h5.2M860.8 19.2h5.2M864.9 16.2h5.2M864.9 19h5.2M869 15.6h5.2M869 18.3h5.2M873.2 15.2h5.2M873.2 17.9h5.2M877.3 15.1h5.2M877.3 17.8h5.2M881.5 14.5h5.2M881.5 17.3h5.2M885.6 14.4h5.2M885.6 17.2h5.2M889.7 13.8h5.2M889.7 16.6h5.2M893.9 14h5.2M893.9 16.7h5.2M898 13.6h5.2M898 16.3h5.2M902.2 13.2h5.2M902.2 15.9h5.2M906.3 12.6h5.2M906.3 15.4h5.2M910.4 13.5h5.2M910.4 16.3h5.2M914.6 13.3h5.2M914.6 16.1h5.2M918.7 13.5h5.2M918.7 16.2h5.2M922.9 15.9h5.2M922.9 18.7h5.2M927 48.8h5.2M927 51.6h5.2"/>
</g>
<g stroke="#008000">
<path class="ln" d="M101.6 580.8L105.7 580.4L109.9 579.9L114 579.5L118.2 579.1L122.3 578.6L126.4 578.2L130.6 577.8L134.7 577.4L138.9 577L143 576.5L147.1 576.1L151.3 575.7L155.4 575.3L159.6 574.9L163.7 574.4L167.8 574L172 573.6L176.1 573.2L180.3 572.8L184.4 572.4L188.5 572L192.7 571.6L196.8 571.1L201 570.7L205.1 570.3L209.2 569.9L213.4 569.5L217.5 569.1L221.7 568.7L225.8 568.3L229.9 567.9L234.1 567.6L238.2 567.2L242.4 566.8L246.5 566.4L250.6 566.1L254.8 565.7L258.9 565.3L263.1 565L267.2 564.6L271.3 564.2L275.5 563.8L279.6 563.5L283.8 563.1L287.9 562.7L292 562.3L296.2 561.9L300.3 561.5L304.5 561.1L308.6 560.7L312.7 560.2L316.9 559.8L321 559.3L325.2 558.9L329.3 558.4L333.4 557.9L337.6 557.5L341.7 557L345.9 556.4L350 555.9L354.1 555.4L358.3 554.9L362.4 554.3L366.6 553.8L370.7 553.2L374.8 552.7L379 552.1L383.1 551.5L387.3 550.9L391.4 550.4L395.5 549.8L399.7 549.2L403.8 548.6L408 547.9L412.1 547.3L416.2 546.7L420.4 546.1L424.5 545.4L428.7 544.8L432.8 544.2L436.9 543.5L441.1 542.9L445.2 542.2L449.4 541.5L453.5 540.9L457.6 540.2L461.8 539.5L465.9 538.7L470.1 538L474.2 537.3L478.3 536.5L482.5 535.7L486.6 535L490.8 534.1L494.9 533.3L499 532.5L503.2 531.6L507.3 530.7L511.5 529.8L515.6 528.9L519.7 527.9L523.9 527L528 526L532.2 524.9L536.3 523.9L540.4 522.8L544.6 521.7L548.7 520.6L552.9 519.5L557 518.3L561.1 517.1L565.3 515.9L569.4 514.6L573.6 513.3L577.7 512L581.8 510.6L586 509.1L590.1 507.6L594.3 506.1L598.4 504.5L602.5 502.8L606.7 501.1L610.8 499.2L615 497.4L619.1 495.4L623.2 493.4L627.4 491.3L631.5 489.2L635.7 487L639.8 484.7L643.9 482.4L648.1 480L652.2 477.5L656.4 474.9L660.5 472.2L664.6 469.4L668.8 466.4L672.9 463.3L677.1 460.1L681.2 456.7L685.3 453.1L689.5 449.3L693.6 445.2L697.8 440.7L701.9 435.9L706 430.5L710.2 424.7L714.3 418.3L718.5 411.4L722.6 403.9L726.7 395.5L730.9 386.2L735 375.6L739.2 363.2L743.3 348.9L747.4 334.8L751.6 318.8L755.7 295.3L759.9 267.5L764 235.3L768.1 189.4L772.3 130.4L776.4 60.5L780.6 12.5L784.7 36.5L788.8 153L793 307.3L797.1 499.2L801.3 632.9L805.4 675.4L809.5 692.5L813.7 696.6L817.8 697.7"/>
<path class="eb" d="M99 580h5.2M99 581.6h5.2M103.1 579.5h5.2M103.1 581.2h5.2M107.3 579.1h5.2M107.3 580.7h5.2M111.4 578.7h5.2M111.4 580.3h5.2M115.6 578.2h5.2M115.6 579.9h5.2M119.7 577.8h5.2M119.7 579.5h5.2M123.8 577.4h5.2M123.8 579h5.2M128 577h5.2M128 578.6h5.2M132.1 576.6h5.2M132.1 578.2h5.2M136.3 576.1h5.2M136.3 577.8h5.2M140.4 575.7h5.2M140.4 577.4h5.2M144.5 575.3h5.2M144.5 576.9h5.2M148.7 574.9h5.2M148.7 576.5h5.2M152.8 574.5h5.2M152.8 576.1h5.2M157 574h5.2M157 575.7h5.2M161.1 573.6h5.2M161.1 575.3h5.2M165.2 573.2h5.2M165.2 574.9h5.2M169.4 572.8h5.2M169.4 574.4h5.2M173.5 572.4h5.2M173.5 574h5.2M177.7 572h5.2M177.7 573.6h5.2M181.8 571.6h5.2M181.8 573.2h5.2M185.9 571.1h5.2M185.9 572.8h5.2M190.1 570.7h5.2M190.1 572.4h5.2M194.2 570.3h5.2M194.2 572h5.2M198.4 569.9h5.2M198.4 571.6h5.2M202.5 569.5h5.2M202.5 571.2h5.2M206.6 569.1h5.2M206.6 570.7h5.2M210.8 568.7h5.2M210.8 570.3h5.2M214.9 568.3h5.2M214.9 569.9h5.2M219.1 567.9h5.2M219.1 569.5h5.2M223.2 567.5h5.2M223.2 569.1h5.2M227.3 567.1h5.2M227.3 568.8h5.2M231.5 566.7h5.2M231.5 568.4h5.2M235.6 566.4h5.2M235.6 568h5.2M239.8 566h5.2M239.8 567.6h5.2M243.9 565.6h5.2M243.9 567.3h5.2M248 565.2h5.2M248 566.9h5.2M252.2 564.9h5.2M252.2 566.5h5.2M256.3 564.5h5.2M256.3 566.1h5.2M260.5 564.1h5.2M260.5 565.8h5.2M264.6 563.8h5.2M264.6 565.4h5.2M268.7 563.4h5.2M268.7 565h5.2M272.9 563h5.2M272.9 564.7h5.2M277 562.6h5.2M277 564.3h5.2M281.2 562.3h5.2M281.2 563.9h5.2M285.3 561.9h5.2M285.3 563.5h5.2M289.4 561.5h5.2M289.4 563.1h5.2M293.6 561.1h5.2M293.6 562.7h5.2M297.7 560.7h5.2M297.7 562.3h5.2M301.9 560.3h5.2M301.9 561.9h5.2M306 559.8h5.2M306 561.5h5.2M310.1 559.4h5.2M310.1 561.1h5.2M314.3 559h5.2M314.3 560.6h5.2M318.4 558.5h5.2M318.4 560.2h5.2M322.6 558.1h5.2M322.6 559.7h5.2M326.7 557.6h5.2M326.7 559.2h5.2M330.8 557.1h5.2M330.8 558.8h5.2M335 556.6h5.2M335 558.3h5.2M339.1 556.1h5.2M339.1 557.8h5.2M343.3 555.6h5.2M343.3 557.3h5.2M347.4 555.1h5.2M347.4 556.8h5.2M351.5 554.6h5.2M351.5 556.2h5.2M355.7 554.1h5.2M355.7 555.7h5.2M359.8 553.5h5.2M359.8 555.2h5.2M364 553h5.2M364 554.6h5.2M368.1 552.4h5.2M368.1 554.1h5.2M372.2 551.9h5.2M372.2 553.5h5.2M376.4 551.3h5.2M376.4 552.9h5.2M380.5 550.7h5.2M380.5 552.4h5.2M384.7 550.1h5.2M384.7 551.8h5.2M388.8 549.5h5.2M388.8 551.2h5.2M392.9 548.9h5.2M392.9 550.6h5.2M397.1 548.3h5.2M397.1 550h5.2M401.2 547.7h5.2M401.2 549.4h5.2M405.4 547.1h5.2M405.4 548.8h5.2M409.5 546.5h5.2M409.5 548.1h5.2M413.6 545.9h5.2M413.6 547.5h5.2M417.8 545.2h5.2M417.8 546.9h5.2M421.9 544.6h5.2M421.9 546.3h5.2M426.1 544h5.2M426.1 545.6h5.2M430.2 543.3h5.2M430.2 545h5.2M434.3 542.7h5.2M434.3 544.3h5.2M438.5 542h5.2M438.5 543.7h5.2M442.6 541.4h5.2M442.6 543h5.2M446.8 540.7h5.2M446.8 542.4h5.2M450.9 540h5.2M450.9 541.7h5.2M455 539.3h5.2M455 541h5.2M459.2 538.6h5.2M459.2 540.3h5.2M463.3 537.9h5.2M463.3 539.6h5.2M467.5 537.2h5.2M467.5 538.8h5.2M471.6 536.5h5.2M471.6 538.1h5.2M475.7 535.7h5.2M475.7 537.3h5.2M479.9 534.9h5.2M479.9 536.6h5.2M484 534.1h5.2M484 535.8h5.2M488.2 533.3h5.2M488.2 535h5.2M492.3 532.5h5.2M492.3 534.1h5.2M496.4 531.6h5.2M496.4 533.3h5.2M500.6 530.8h5.2M500.6 532.4h5.2M504.7 529.9h5.2M504.7 531.5h5.2M508.9 529h5.2M508.9 530.6h5.2M513 528.1h5.2M513 529.7h5.2M517.1 527.1h5.2M517.1 528.8h5.2M521.3 526.1h5.2M521.3 527.8h5.2M525.4 525.1h5.2M525.4 526.8h5.2M529.6 524.1h5.2M529.6 525.8h5.2M533.7 523.1h5.2M533.7 524.7h5.2M537.8 522h5.2M537.8 523.7h5.2M542 520.9h5.2M542 522.6h5.2M546.1 519.8h5.2M546.1 521.4h5.2M550.3 518.7h5.2M550.3 520.3h5.2M554.4 517.5h5.2M554.4 519.1h5.2M558.5 516.3h5.2M558.5 517.9h5.2M562.7 515.1h5.2M562.7 516.7h5.2M566.8 513.8h5.2M566.8 515.4h5.2M571 512.5h5.2M571 514.1h5.2M575.1 511.1h5.2M575.1 512.8h5.2M579.2 509.7h5.2M579.2 511.4h5.2M583.4 508.3h5.2M583.4 509.9h5.2M587.5 506.8h5.2M587.5 508.5h5.2M591.7 505.3h5.2M591.7 506.9h5.2M595.8 503.7h5.2M595.8 505.3h5.2M599.9 502h5.2M599.9 503.6h5.2M604.1 500.2h5.2M604.1 501.9h5.2M608.2 498.4h5.2M608.2 500.1h5.2M612.4 496.5h5.2M612.4 498.2h5.2M616.5 494.6h5.2M616.5 496.2h5.2M620.6 492.6h5.2M620.6 494.2h5.2M624.8 490.5h5.2M624.8 492.1h5.2M628.9 488.4h5.2M628.9 490h5.2M633.1 486.2h5.2M633.1 487.8h5.2M637.2 483.9h5.2M637.2 485.5h5.2M641.3 481.6h5.2M641.3 483.2h5.2M645.5 479.2h5.2M645.5 480.8h5.2M649.6 476.7h5.2M649.6 478.3h5.2M653.8 474.1h5.2M653.8 475.7h5.2M657.9 471.4h5.2M657.9 473h5.2M662 468.5h5.2M662 470.2h5.2M666.2 465.6h5.2M666.2 467.2h5.2M670.3 462.5h5.2M670.3 464.1h5.2M674.5 459.3h5.2M674.5 460.9h5.2M678.6 455.9h5.2M678.6 457.5h5.2M682.7 452.3h5.2M682.7 454h5.2M686.9 448.5h5.2M686.9 450.1h5.2M691 444.4h5.2M691 446h5.2M695.2 439.9h5.2M695.2 441.6h5.2M699.3 435.1h5.2M699.3 436.7h5.2M703.4 429.7h5.2M703.4 431.4h5.2M707.6 423.8h5.2M707.6 425.5h5.2M711.7 417.4h5.2M711.7 419.1h5.2M715.9 410.6h5.2M715.9 412.2h5.2M720 403h5.2M720 404.7h5.2M724.1 394.7h5.2M724.1 396.3h5.2M728.3 385.4h5.2M728.3 387h5.2M732.4 374.7h5.2M732.4 376.4h5.2M736.6 362.4h5.2M736.6 364h5.2M740.7 348.1h5.2M740.7 349.8h5.2M744.8 333.9h5.2M744.8 335.6h5.2M749 318h5.2M749 319.7h5.2M753.1 294.4h5.2M753.1 296.1h5.2M757.3 266.7h5.2M757.3 268.3h5.2M761.4 234.5h5.2M761.4 236.1h5.2M765.5 188.5h5.2M765.5 190.2h5.2M769.7 129.6h5.2M769.7 131.2h5.2M773.8 59.7h5.2M773.8 61.3h5.2M778 11.7h5.2M778 13.3h5.2M782.1 35.7h5.2M782.1 37.3h5.2M786.2 152.2h5.2M786.2 153.9h5.2M790.4 306.4h5.2M790.4 308.1h5.2M794.5 498.4h5.2M794.5 500h5.2M798.7 630.1h5.2M798.7 635.6h5.2M802.8 671.3h5.2M802.8 679.5h5.2M806.9 690.1h5.2M806.9 694.9h5.2M811.1 695.9h5.2M811.1 697.3h5.2M815.2 697.3h5.2M815.2 698h5.2"/>
</g>
<g stroke="#ffa500">
<path class="ln" d="M103.9 611L108.1 609.7L112.2 609.1L116.3 608.9L120.5 608.8L124.6 608.7L128.8 608.6L132.9 608.4L137 608.3L141.2 608.2L145.3 608.1L149.5 607.9L153.6 607.8L157.7 607.7L161.9 607.5L166 607.4L170.2 607.3L174.3 607.1L178.4 607L182.6 606.8L186.7 606.7L190.9 606.6L195 606.4L199.1 606.3L203.3 606.1L207.4 605.9L211.6 605.8L215.7 605.6L219.8 605.5L224 605.3L228.1 605.1L232.3 605L236.4 604.8L240.5 604.6L244.7 604.4L248.8 604.2L253 604.1L257.1 603.9L261.2 603.7L265.4 603.5L269.5 603.3L273.7 603.1L277.8 602.9L281.9 602.7L286.1 602.5L290.2 602.3L294.4 602.1L298.5 601.8L302.6 601.6L306.8 601.4L310.9 601.2L315.1 600.9L319.2 600.7L323.3 600.5L327.5 600.2L331.6 600L335.8 599.7L339.9 599.5L344 599.2L348.2 598.9L352.3 598.7L356.5 598.4L360.6 598.1L364.7 597.8L368.9 597.6L373 597.3L377.2 597L381.3 596.7L385.4 596.4L389.6 596L393.7 595.7L397.9 595.4L402 595.1L406.1 594.7L410.3 594.4L414.4 594L418.6 593.7L422.7 593.3L426.8 592.9L431 592.6L435.1 592.2L439.3 591.8L443.4 591.4L447.5 591L451.7 590.6L455.8 590.1L460 589.7L464.1 589.3L468.2 588.8L472.4 588.4L476.5 587.9L480.7 587.4L484.8 586.9L488.9 586.4L493.1 585.9L497.2 585.4L501.4 584.8L505.5 584.3L509.6 583.7L513.8 583.1L517.9 582.6L522.1 581.9L526.2 581.3L530.3 580.7L534.5 580L538.6 579.4L542.8 578.7L546.9 578L551 577.3L555.2 576.5L559.3 575.8L563.5 575L567.6 574.2L571.7 573.3L575.9 572.5L580 571.6L584.2 570.7L588.3 569.8L592.4 568.8L596.6 567.8L600.7 566.8L604.9 565.7L609 564.6L613.1 563.5L617.3 562.3L621.4 561.1L625.6 559.8L629.7 558.5L633.8 557.1L638 555.7L642.1 554.3L646.3 552.7L650.4 551.2L654.5 549.5L658.7 547.8L662.8 546L667 544.1L671.1 542.1L675.2 540L679.4 537.8L683.5 535.5L687.7 533.1L691.8 530.6L695.9 528L700.1 525.2L704.2 522.2L708.4 519L712.5 515.6L716.6 511.9L720.8 508L724.9 503.6L729.1 498.9L733.2 493.7L737.3 487.8L741.5 481.1L745.6 473.5L749.8 464.7L753.9 454.3L758 441.9L762.2 426.7L766.3 407.1L770.5 381.3L774.6 315.7L778.7 212.4L782.9 12.5L787 673.3L791.2 676.7L795.3 677.2L799.4 677.5L803.6 677.7L807.7 677.8L811.9 678.1L816 678.6L820.1 679.2L824.3 680L828.4 680.8L832.6 681.5L836.7 682.3L840.8 682.9L845 683.4L849.1 683.8L853.3 684.1L857.4 684.5L861.5 684.8L865.7 685L869.8 685.2L874 685.2L878.1 685.2L882.2 685.2L886.4 685.2L890.5 685.3L894.7 685.3L898.8 685.3L902.9 685.3L907.1 685.4L911.2 685.5L915.4 685.7L919.5 685.9L923.6 686L927.8 686"/>
<path class="eb" d="M101.3 610.3h5.2M101.3 611.6h5.2M105.5 609h5.2M105.5 610.4h5.2M109.6 608.4h5.2M109.6 609.8h5.2M113.7 608.2h5.2M113.7 609.6h5.2M117.9 608.1h5.2M117.9 609.5h5.2M122 608h5.2M122 609.4h5.2M126.2 607.9h5.2M126.2 609.2h5.2M130.3 607.7h5.2M130.3 609.1h5.2M134.4 607.6h5.2M134.4 609h5.2M138.6 607.5h5.2M138.6 608.9h5.2M142.7 607.4h5.2M142.7 608.7h5.2M146.9 607.2h5.2M146.9 608.6h5.2M151 607.1h5.2M151 608.5h5.2M155.1 607h5.2M155.1 608.4h5.2M159.3 606.9h5.2M159.3 608.2h5.2M163.4 606.7h5.2M163.4 608.1h5.2M167.6 606.6h5.2M167.6 608h5.2M171.7 606.4h5.2M171.7 607.8h5.2M175.8 606.3h5.2M175.8 607.7h5.2M180 606.2h5.2M180 607.5h5.2M184.1 606h5.2M184.1 607.4h5.2M188.3 605.9h5.2M188.3 607.2h5.2M192.4 605.7h5.2M192.4 607.1h5.2M196.5 605.6h5.2M196.5 606.9h5.2M200.7 605.4h5.2M200.7 606.8h5.2M204.8 605.3h5.2M204.8 606.6h5.2M209 605.1h5.2M209 606.5h5.2M213.1 604.9h5.2M213.1 606.3h5.2M217.2 604.8h5.2M217.2 606.1h5.2M221.4 604.6h5.2M221.4 606h5.2M225.5 604.4h5.2M225.5 605.8h5.2M229.7 604.3h5.2M229.7 605.6h5.2M233.8 604.1h5.2M233.8 605.5h5.2M237.9 603.9h5.2M237.9 605.3h5.2M242.1 603.7h5.2M242.1 605.1h5.2M246.2 603.6h5.2M246.2 604.9h5.2M250.4 603.4h5.2M250.4 604.7h5.2M254.5 603.2h5.2M254.5 604.6h5.2M258.6 603h5.2M258.6 604.4h5.2M262.8 602.8h5.2M262.8 604.2h5.2M266.9 602.6h5.2M266.9 604h5.2M271.1 602.4h5.2M271.1 603.8h5.2M275.2 602.2h5.2M275.2 603.6h5.2M279.3 602h5.2M279.3 603.4h5.2M283.5 601.8h5.2M283.5 603.2h5.2M287.6 601.6h5.2M287.6 603h5.2M291.8 601.4h5.2M291.8 602.7h5.2M295.9 601.2h5.2M295.9 602.5h5.2M300 600.9h5.2M300 602.3h5.2M304.2 600.7h5.2M304.2 602.1h5.2M308.3 600.5h5.2M308.3 601.9h5.2M312.5 600.3h5.2M312.5 601.6h5.2M316.6 600h5.2M316.6 601.4h5.2M320.7 599.8h5.2M320.7 601.2h5.2M324.9 599.5h5.2M324.9 600.9h5.2M329 599.3h5.2M329 600.7h5.2M333.2 599h5.2M333.2 600.4h5.2M337.3 598.8h5.2M337.3 600.2h5.2M341.4 598.5h5.2M341.4 599.9h5.2M345.6 598.3h5.2M345.6 599.6h5.2M349.7 598h5.2M349.7 599.4h5.2M353.9 597.7h5.2M353.9 599.1h5.2M358 597.4h5.2M358 598.8h5.2M362.1 597.2h5.2M362.1 598.5h5.2M366.3 596.9h5.2M366.3 598.2h5.2M370.4 596.6h5.2M370.4 597.9h5.2M374.6 596.3h5.2M374.6 597.7h5.2M378.7 596h5.2M378.7 597.3h5.2M382.8 595.7h5.2M382.8 597h5.2M387 595.4h5.2M387 596.7h5.2M391.1 595h5.2M391.1 596.4h5.2M395.3 594.7h5.2M395.3 596.1h5.2M399.4 594.4h5.2M399.4 595.8h5.2M403.5 594h5.2M403.5 595.4h5.2M407.7 593.7h5.2M407.7 595.1h5.2M411.8 593.4h5.2M411.8 594.7h5.2M416 593h5.2M416 594.4h5.2M420.1 592.6h5.2M420.1 594h5.2M424.2 592.3h5.2M424.2 593.6h5.2M428.4 591.9h5.2M428.4 593.3h5.2M432.5 591.5h5.2M432.5 592.9h5.2M436.7 591.1h5.2M436.7 592.5h5.2M440.8 590.7h5.2M440.8 592.1h5.2M444.9 590.3h5.2M444.9 591.7h5.2M449.1 589.9h5.2M449.1 591.3h5.2M453.2 589.5h5.2M453.2 590.8h5.2M457.4 589h5.2M457.4 590.4h5.2M461.5 588.6h5.2M461.5 590h5.2M465.6 588.1h5.2M465.6 589.5h5.2M469.8 587.7h5.2M469.8 589h5.2M473.9 587.2h5.2M473.9 588.6h5.2M478.1 586.7h5.2M478.1 588.1h5.2M482.2 586.2h5.2M482.2 587.6h5.2M486.3 585.7h5.2M486.3 587.1h5.2M490.5 585.2h5.2M490.5 586.6h5.2M494.6 584.7h5.2M494.6 586.1h5.2M498.8 584.1h5.2M498.8 585.5h5.2M502.9 583.6h5.2M502.9 585h5.2M507 583h5.2M507 584.4h5.2M511.2 582.5h5.2M511.2 583.8h5.2M515.3 581.9h5.2M515.3 583.2h5.2M519.5 581.3h5.2M519.5 582.6h5.2M523.6 580.6h5.2M523.6 582h5.2M527.7 580h5.2M527.7 581.4h5.2M531.9 579.4h5.2M531.9 580.7h5.2M536 578.7h5.2M536 580.1h5.2M540.2 578h5.2M540.2 579.4h5.2M544.3 577.3h5.2M544.3 578.7h5.2M548.4 576.6h5.2M548.4 578h5.2M552.6 575.8h5.2M552.6 577.2h5.2M556.7 575.1h5.2M556.7 576.4h5.2M560.9 574.3h5.2M560.9 575.7h5.2M565 573.5h5.2M565 574.9h5.2M569.1 572.7h5.2M569.1 574h5.2M573.3 571.8h5.2M573.3 573.2h5.2M577.4 570.9h5.2M577.4 572.3h5.2M581.6 570h5.2M581.6 571.4h5.2M585.7 569.1h5.2M585.7 570.5h5.2M589.8 568.1h5.2M589.8 569.5h5.2M594 567.1h5.2M594 568.5h5.2M598.1 566.1h5.2M598.1 567.5h5.2M602.3 565h5.2M602.3 566.4h5.2M606.4 563.9h5.2M606.4 565.3h5.2M610.5 562.8h5.2M610.5 564.2h5.2M614.7 561.6h5.2M614.7 563h5.2M618.8 560.4h5.2M618.8 561.8h5.2M623 559.1h5.2M623 560.5h5.2M627.1 557.8h5.2M627.1 559.2h5.2M631.2 556.5h5.2M631.2 557.8h5.2M635.4 555h5.2M635.4 556.4h5.2M639.5 553.6h5.2M639.5 554.9h5.2M643.7 552.1h5.2M643.7 553.4h5.2M647.8 550.5h5.2M647.8 551.8h5.2M651.9 548.8h5.2M651.9 550.2h5.2M656.1 547.1h5.2M656.1 548.5h5.2M660.2 545.3h5.2M660.2 546.7h5.2M664.4 543.4h5.2M664.4 544.8h5.2M668.5 541.4h5.2M668.5 542.8h5.2M672.6 539.3h5.2M672.6 540.7h5.2M676.8 537.1h5.2M676.8 538.5h5.2M680.9 534.8h5.2M680.9 536.2h5.2M685.1 532.5h5.2M685.1 533.8h5.2M689.2 529.9h5.2M689.2 531.3h5.2M693.3 527.3h5.2M693.3 528.7h5.2M697.5 524.5h5.2M697.5 525.8h5.2M701.6 521.5h5.2M701.6 522.8h5.2M705.8 518.3h5.2M705.8 519.7h5.2M709.9 514.9h5.2M709.9 516.3h5.2M714 511.2h5.2M714 512.6h5.2M718.2 507.3h5.2M718.2 508.6h5.2M722.3 503h5.2M722.3 504.3h5.2M726.5 498.2h5.2M726.5 499.6h5.2M730.6 493h5.2M730.6 494.3h5.2M734.7 487.1h5.2M734.7 488.5h5.2M738.9 480.4h5.2M738.9 481.8h5.2M743 472.8h5.2M743 474.2h5.2M747.2 464h5.2M747.2 465.4h5.2M751.3 453.6h5.2M751.3 455h5.2M755.4 441.2h5.2M755.4 442.6h5.2M759.6 426h5.2M759.6 427.4h5.2M763.7 406.4h5.2M763.7 407.8h5.2M767.9 380.6h5.2M767.9 381.9h5.2M772 315h5.2M772 316.4h5.2M776.1 211.7h5.2M776.1 213.1h5.2M780.3 11.8h5.2M780.3 13.2h5.2M784.4 672.6h5.2M784.4 674h5.2M788.6 676.1h5.2M788.6 677.4h5.2M792.7 676.5h5.2M792.7 677.9h5.2M796.8 676.8h5.2M796.8 678.2h5.2M801 677h5.2M801 678.3h5.2M805.1 677.1h5.2M805.1 678.5h5.2M809.3 677.4h5.2M809.3 678.8h5.2M813.4 677.9h5.2M813.4 679.3h5.2M817.5 678.5h5.2M817.5 679.9h5.2M821.7 679.3h5.2M821.7 680.6h5.2M825.8 680.1h5.2M825.8 681.4h5.2M830 680.9h5.2M830 682.2h5.2M834.1 681.6h5.2M834.1 683h5.2M838.2 682.2h5.2M838.2 683.6h5.2M842.4 682.7h5.2M842.4 684h5.2M846.5 683.1h5.2M846.5 684.4h5.2M850.7 683.5h5.2M850.7 684.8h5.2M854.8 683.8h5.2M854.8 685.2h5.2M858.9 684.1h5.2M858.9 685.5h5.2M863.1 684.3h5.2M863.1 685.7h5.2M867.2 684.5h5.2M867.2 685.8h5.2M871.4 684.5h5.2M871.4 685.9h5.2M875.5 684.5h5.2M875.5 685.9h5.2M879.6 684.6h5.2M879.6 685.9h5.2M883.8 684.6h5.2M883.8 685.9h5.2M887.9 684.6h5.2M887.9 685.9h5.2M892.1 684.6h5.2M892.1 686h5.2M896.2 684.6h5.2M896.2 686h5.2M900.3 684.6h5.2M900.3 686h5.2M904.5 684.7h5.2M904.5 686h5.2M908.6 684.8h5.2M908.6 686.2h5.2M912.8 685h5.2M912.8 686.4h5.2M916.9 685.2h5.2M916.9 686.6h5.2M921 685.3h5.2M921 686.7h5.2M925.2 685.3h5.2M925.2 686.7h5.2"/>
</g>
<g stroke="#ff0000">
<path class="ln" d="M101.6 617.8L105.7 615.7L109.9 614.9L114 614.5L118.2 614.4L122.3 614.3L126.4 614.2L130.6 614L134.7 613.9L138.9 613.8L143 613.7L147.1 613.6L151.3 613.5L155.4 613.3L159.6 613.2L163.7 613.1L167.8 613L172 612.8L176.1 612.7L180.3 612.6L184.4 612.4L188.5 612.3L192.7 612.1L196.8 612L201 611.9L205.1 611.7L209.2 611.6L213.4 611.4L217.5 611.3L221.7 611.1L225.8 610.9L229.9 610.8L234.1 610.6L238.2 610.4L242.4 610.3L246.5 610.1L250.6 609.9L254.8 609.8L258.9 609.6L263.1 609.4L267.2 609.2L271.3 609L275.5 608.8L279.6 608.6L283.8 608.4L287.9 608.2L292 608L296.2 607.8L300.3 607.6L304.5 607.4L308.6 607.2L312.7 607L316.9 606.7L321 606.5L325.2 606.3L329.3 606L333.4 605.8L337.6 605.5L341.7 605.3L345.9 605L350 604.8L354.1 604.5L358.3 604.2L362.4 604L366.6 603.7L370.7 603.4L374.8 603.1L379 602.8L383.1 602.5L387.3 602.2L391.4 601.9L395.5 601.6L399.7 601.3L403.8 601L408 600.6L412.1 600.3L416.2 600L420.4 599.6L424.5 599.2L428.7 598.9L432.8 598.5L436.9 598.1L441.1 597.7L445.2 597.3L449.4 596.9L453.5 596.5L457.6 596.1L461.8 595.7L465.9 595.2L470.1 594.8L474.2 594.3L478.3 593.9L482.5 593.4L486.6 592.9L490.8 592.4L494.9 591.9L499 591.4L503.2 590.8L507.3 590.3L511.5 589.7L515.6 589.1L519.7 588.6L523.9 588L528 587.3L532.2 586.7L536.3 586.1L540.4 585.4L544.6 584.7L548.7 584L552.9 583.3L557 582.5L561.1 581.8L565.3 581L569.4 580.2L573.6 579.3L577.7 578.5L581.8 577.6L586 576.7L590.1 575.7L594.3 574.8L598.4 573.8L602.5 572.7L606.7 571.7L610.8 570.6L615 569.4L619.1 568.2L623.2 567L627.4 565.7L631.5 564.4L635.7 563L639.8 561.5L643.9 560L648.1 558.4L652.2 556.8L656.4 555.1L660.5 553.3L664.6 551.4L668.8 549.4L672.9 547.3L677.1 545.1L681.2 542.8L685.3 540.3L689.5 537.7L693.6 534.9L697.8 531.9L701.9 528.7L706 525.3L710.2 521.6L714.3 517.6L718.5 513.3L722.6 508.6L726.7 503.4L730.9 497.6L735 491.2L739.2 483.9L743.3 475.7L747.4 466.2L751.6 455.1L755.7 441.8L759.9 425.4L764 404.5L768.1 376.5L772.3 303.8L776.4 194.2L780.6 12.5L784.7 665.1L788.8 668.2L793 669.7L797.1 670.9L801.3 671.8L805.4 672.7L809.5 673.5L813.7 674.4L817.8 675.3L822 676.2L826.1 677.1L830.2 678L834.4 678.8L838.5 679.6L842.7 680.4L846.8 681.2L850.9 682L855.1 682.7L859.2 683.5L863.4 684.1L867.5 684.8L871.6 685.3L875.8 685.8L879.9 686.2L884.1 686.6L888.2 687L892.3 687.4L896.5 687.7L900.6 688.1L904.8 688.4L908.9 688.8L913 689.1L917.2 689.4L921.3 689.8L925.5 690.1L929.6 690.3"/>
<path class="eb" d="M99 616.3h5.2M99 619.3h5.2M103.1 614.2h5.2M103.1 617.2h5.2M107.3 613.4h5.2M107.3 616.4h5.2M111.4 613h5.2M111.4 616h5.2M115.6 612.9h5.2M115.6 615.9h5.2M119.7 612.8h5.2M119.7 615.8h5.2M123.8 612.6h5.2M123.8 615.7h5.2M128 612.5h5.2M128 615.5h5.2M132.1 612.4h5.2M132.1 615.4h5.2M136.3 612.3h5.2M136.3 615.3h5.2M140.4 612.2h5.2M140.4 615.2h5.2M144.5 612.1h5.2M144.5 615.1h5.2M148.7 611.9h5.2M148.7 615h5.2M152.8 611.8h5.2M152.8 614.8h5.2M157 611.7h5.2M157 614.7h5.2M161.1 611.6h5.2M161.1 614.6h5.2M165.2 611.4h5.2M165.2 614.5h5.2M169.4 611.3h5.2M169.4 614.3h5.2M173.5 611.2h5.2M173.5 614.2h5.2M177.7 611h5.2M177.7 614.1h5.2M181.8 610.9h5.2M181.8 613.9h5.2M185.9 610.8h5.2M185.9 613.8h5.2M190.1 610.6h5.2M190.1 613.6h5.2M194.2 610.5h5.2M194.2 613.5h5.2M198.4 610.3h5.2M198.4 613.4h5.2M202.5 610.2h5.2M202.5 613.2h5.2M206.6 610.1h5.2M206.6 613.1h5.2M210.8 609.9h5.2M210.8 612.9h5.2M214.9 609.7h5.2M214.9 612.8h5.2M219.1 609.6h5.2M219.1 612.6h5.2M223.2 609.4h5.2M223.2 612.4h5.2M227.3 609.3h5.2M227.3 612.3h5.2M231.5 609.1h5.2M231.5 612.1h5.2M235.6 608.9h5.2M235.6 612h5.2M239.8 608.8h5.2M239.8 611.8h5.2M243.9 608.6h5.2M243.9 611.6h5.2M248 608.4h5.2M248 611.4h5.2M252.2 608.2h5.2M252.2 611.3h5.2M256.3 608.1h5.2M256.3 611.1h5.2M260.5 607.9h5.2M260.5 610.9h5.2M264.6 607.7h5.2M264.6 610.7h5.2M268.7 607.5h5.2M268.7 610.5h5.2M272.9 607.3h5.2M272.9 610.3h5.2M277 607.1h5.2M277 610.1h5.2M281.2 606.9h5.2M281.2 609.9h5.2M285.3 606.7h5.2M285.3 609.7h5.2M289.4 606.5h5.2M289.4 609.5h5.2M293.6 606.3h5.2M293.6 609.3h5.2M297.7 606.1h5.2M297.7 609.1h5.2M301.9 605.9h5.2M301.9 608.9h5.2M306 605.7h5.2M306 608.7h5.2M310.1 605.4h5.2M310.1 608.5h5.2M314.3 605.2h5.2M314.3 608.2h5.2M318.4 605h5.2M318.4 608h5.2M322.6 604.8h5.2M322.6 607.8h5.2M326.7 604.5h5.2M326.7 607.5h5.2M330.8 604.3h5.2M330.8 607.3h5.2M335 604h5.2M335 607h5.2M339.1 603.8h5.2M339.1 606.8h5.2M343.3 603.5h5.2M343.3 606.5h5.2M347.4 603.3h5.2M347.4 606.3h5.2M351.5 603h5.2M351.5 606h5.2M355.7 602.7h5.2M355.7 605.8h5.2M359.8 602.5h5.2M359.8 605.5h5.2M364 602.2h5.2M364 605.2h5.2M368.1 601.9h5.2M368.1 604.9h5.2M372.2 601.6h5.2M372.2 604.6h5.2M376.4 601.3h5.2M376.4 604.3h5.2M380.5 601h5.2M380.5 604.1h5.2M384.7 600.7h5.2M384.7 603.7h5.2M388.8 600.4h5.2M388.8 603.4h5.2M392.9 600.1h5.2M392.9 603.1h5.2M397.1 599.8h5.2M397.1 602.8h5.2M401.2 599.5h5.2M401.2 602.5h5.2M405.4 599.1h5.2M405.4 602.1h5.2M409.5 598.8h5.2M409.5 601.8h5.2M413.6 598.4h5.2M413.6 601.5h5.2M417.8 598.1h5.2M417.8 601.1h5.2M421.9 597.7h5.2M421.9 600.8h5.2M426.1 597.4h5.2M426.1 600.4h5.2M430.2 597h5.2M430.2 600h5.2M434.3 596.6h5.2M434.3 599.6h5.2M438.5 596.2h5.2M438.5 599.2h5.2M442.6 595.8h5.2M442.6 598.9h5.2M446.8 595.4h5.2M446.8 598.4h5.2M450.9 595h5.2M450.9 598h5.2M455 594.6h5.2M455 597.6h5.2M459.2 594.2h5.2M459.2 597.2h5.2M463.3 593.7h5.2M463.3 596.7h5.2M467.5 593.3h5.2M467.5 596.3h5.2M471.6 592.8h5.2M471.6 595.8h5.2M475.7 592.4h5.2M475.7 595.4h5.2M479.9 591.9h5.2M479.9 594.9h5.2M484 591.4h5.2M484 594.4h5.2M488.2 590.9h5.2M488.2 593.9h5.2M492.3 590.4h5.2M492.3 593.4h5.2M496.4 589.9h5.2M496.4 592.9h5.2M500.6 589.3h5.2M500.6 592.3h5.2M504.7 588.8h5.2M504.7 591.8h5.2M508.9 588.2h5.2M508.9 591.2h5.2M513 587.6h5.2M513 590.7h5.2M517.1 587.1h5.2M517.1 590.1h5.2M521.3 586.4h5.2M521.3 589.5h5.2M525.4 585.8h5.2M525.4 588.8h5.2M529.6 585.2h5.2M529.6 588.2h5.2M533.7 584.5h5.2M533.7 587.6h5.2M537.8 583.9h5.2M537.8 586.9h5.2M542 583.2h5.2M542 586.2h5.2M546.1 582.5h5.2M546.1 585.5h5.2M550.3 581.8h5.2M550.3 584.8h5.2M554.4 581h5.2M554.4 584h5.2M558.5 580.3h5.2M558.5 583.3h5.2M562.7 579.5h5.2M562.7 582.5h5.2M566.8 578.7h5.2M566.8 581.7h5.2M571 577.8h5.2M571 580.9h5.2M575.1 577h5.2M575.1 580h5.2M579.2 576.1h5.2M579.2 579.1h5.2M583.4 575.2h5.2M583.4 578.2h5.2M587.5 574.2h5.2M587.5 577.3h5.2M591.7 573.3h5.2M591.7 576.3h5.2M595.8 572.3h5.2M595.8 575.3h5.2M599.9 571.2h5.2M599.9 574.2h5.2M604.1 570.2h5.2M604.1 573.2h5.2M608.2 569h5.2M608.2 572.1h5.2M612.4 567.9h5.2M612.4 570.9h5.2M616.5 566.7h5.2M616.5 569.7h5.2M620.6 565.5h5.2M620.6 568.5h5.2M624.8 564.2h5.2M624.8 567.2h5.2M628.9 562.9h5.2M628.9 565.9h5.2M633.1 561.5h5.2M633.1 564.5h5.2M637.2 560h5.2M637.2 563h5.2M641.3 558.5h5.2M641.3 561.5h5.2M645.5 556.9h5.2M645.5 560h5.2M649.6 555.3h5.2M649.6 558.3h5.2M653.8 553.6h5.2M653.8 556.6h5.2M657.9 551.8h5.2M657.9 554.8h5.2M662 549.9h5.2M662 552.9h5.2M666.2 547.9h5.2M666.2 550.9h5.2M670.3 545.8h5.2M670.3 548.8h5.2M674.5 543.6h5.2M674.5 546.6h5.2M678.6 541.3h5.2M678.6 544.3h5.2M682.7 538.8h5.2M682.7 541.8h5.2M686.9 536.2h5.2M686.9 539.2h5.2M691 533.4h5.2M691 536.4h5.2M695.2 530.4h5.2M695.2 533.4h5.2M699.3 527.2h5.2M699.3 530.2h5.2M703.4 523.8h5.2M703.4 526.8h5.2M707.6 520.1h5.2M707.6 523.1h5.2M711.7 516.1h5.2M711.7 519.2h5.2M715.9 511.8h5.2M715.9 514.8h5.2M720 507.1h5.2M720 510.1h5.2M724.1 501.9h5.2M724.1 504.9h5.2M728.3 496.1h5.2M728.3 499.1h5.2M732.4 489.7h5.2M732.4 492.7h5.2M736.6 482.4h5.2M736.6 485.4h5.2M740.7 474.2h5.2M740.7 477.2h5.2M744.8 464.7h5.2M744.8 467.7h5.2M749 453.6h5.2M749 456.6h5.2M753.1 440.3h5.2M753.1 443.3h5.2M757.3 423.9h5.2M757.3 426.9h5.2M761.4 403h5.2M761.4 406h5.2M765.5 375h5.2M765.5 378h5.2M769.7 302.3h5.2M769.7 305.3h5.2M773.8 192.6h5.2M773.8 195.7h5.2M778 11h5.2M778 14h5.2M782.1 662h5.2M782.1 668.2h5.2M786.2 662.4h5.2M786.2 674h5.2M790.4 663.9h5.2M790.4 675.5h5.2M794.5 665.1h5.2M794.5 676.6h5.2M798.7 666.1h5.2M798.7 677.6h5.2M802.8 667h5.2M802.8 678.4h5.2M806.9 667.8h5.2M806.9 679.1h5.2M811.1 668.7h5.2M811.1 680h5.2M815.2 669.7h5.2M815.2 680.9h5.2M819.4 670.6h5.2M819.4 681.8h5.2M823.5 671.5h5.2M823.5 682.7h5.2M827.6 672.4h5.2M827.6 683.5h5.2M831.8 673.3h5.2M831.8 684.3h5.2M835.9 674.1h5.2M835.9 685.1h5.2M840.1 675h5.2M840.1 685.9h5.2M844.2 675.8h5.2M844.2 686.7h5.2M848.3 676.5h5.2M848.3 687.4h5.2M852.5 677.3h5.2M852.5 688.1h5.2M856.6 678.1h5.2M856.6 688.8h5.2M860.8 678.8h5.2M860.8 689.5h5.2M864.9 679.5h5.2M864.9 690.1h5.2M869 680h5.2M869 690.6h5.2M873.2 680.5h5.2M873.2 691.1h5.2M877.3 681h5.2M877.3 691.5h5.2M881.5 681.4h5.2M881.5 691.8h5.2M885.6 681.8h5.2M885.6 692.2h5.2M889.7 682.2h5.2M889.7 692.5h5.2M893.9 682.6h5.2M893.9 692.9h5.2M898 682.9h5.2M898 693.2h5.2M902.2 683.3h5.2M902.2 693.5h5.2M906.3 683.7h5.2M906.3 693.8h5.2M910.4 684.1h5.2M910.4 694.1h5.2M914.6 684.4h5.2M914.6 694.5h5.2M918.7 684.8h5.2M918.7 694.7h5.2M922.9 685.1h5.2M922.9 695h5.2M927 685.4h5.2M927 695.3h5.2"/>
</g>
</g>
<path d="M101.6 698v-9.3M101.6 12.5v9.3M267.2 698v-9.3M267.2 12.5v9.3M432.8 698v-9.3M432.8 12.5v9.3M598.4 698v-9.3M598.4 12.5v9.3M764 698v-9.3M764 12.5v9.3M929.6 698v-9.3M929.6 12.5v9.3M101.6 698h9.3M929.6 698h-9.3M101.6 560.9h9.3M929.6 560.9h-9.3M101.6 423.8h9.3M929.6 423.8h-9.3M101.6 286.7h9.3M929.6 286.7h-9.3M101.6 149.6h9.3M929.6 149.6h-9.3M101.6 12.5h9.3M929.6 12.5h-9.3" stroke="#000" stroke-width="2.3" fill="none"/>
<rect x="101.6" y="12.5" width="828" height="685.5" fill="none" stroke="#000" stroke-width="2.3"/>
<text class="tk" x="101.6" y="727.8" text-anchor="middle">0</text>
<text class="tk" x="267.2" y="727.8" text-anchor="middle">2</text>
<text class="tk" x="432.8" y="727.8" text-anchor="middle">4</text>
<text class="tk" x="598.4" y="727.8" text-anchor="middle">6</text>
<text class="tk" x="764" y="727.8" text-anchor="middle">8</text>
<text class="tk" x="929.6" y="727.8" text-anchor="middle">10</text>
<text class="tk" x="93.9" y="709.2" text-anchor="end">0</text>
<text class="tk" x="93.9" y="572.1" text-anchor="end">20</text>
<text class="tk" x="93.9" y="435" text-anchor="end">40</text>
<text class="tk" x="93.9" y="297.9" text-anchor="end">60</text>
<text class="tk" x="93.9" y="160.8" text-anchor="end">80</text>
<text class="tk" x="93.9" y="23.7" text-anchor="end">100</text>
<text class="lb" x="515.6" y="767.6" text-anchor="middle">Depth (cm)</text>
<text class="lb" style="font-size:32.1px" transform="translate(24.4 355.3) rotate(-90)" text-anchor="middle">Relative dose (%)</text>
<rect x="115.1" y="191.6" width="289.7" height="328" rx="5.5" ry="5.5" fill="#ffffff" stroke="#cccccc" stroke-width="2.5"/>
<g stroke="#000000" fill="none"><path stroke-width="2.8" d="M153.3 200.2V227M150.7 200.2h5.2M150.7 227h5.2"/><path stroke-width="4.2" d="M124.2 213.6H182.4"/></g>
<text class="lg" x="201.8" y="222.9">gamma Co</text>
<g stroke="#bfbf00" fill="none"><path stroke-width="2.8" d="M153.3 240.2V267M150.7 240.2h5.2M150.7 267h5.2"/><path stroke-width="4.2" d="M124.2 253.6H182.4"/></g>
<text class="lg" x="201.8" y="262.9">e- 5 MeV</text>
<g stroke="#0000ff" fill="none"><path stroke-width="2.8" d="M153.3 280.2V307M150.7 280.2h5.2M150.7 307h5.2"/><path stroke-width="4.2" d="M124.2 293.6H182.4"/></g>
<text class="lg" x="201.8" y="302.9">e- 20 MeV</text>
<g stroke="#00bfbf" fill="none"><path stroke-width="2.8" d="M153.3 320.2V347M150.7 320.2h5.2M150.7 347h5.2"/><path stroke-width="4.2" d="M124.2 333.6H182.4"/></g>
<text class="lg" x="201.8" y="342.9">e- 100 MeV</text>
<g stroke="#bf00bf" fill="none"><path stroke-width="2.8" d="M153.3 360.2V387M150.7 360.2h5.2M150.7 387h5.2"/><path stroke-width="4.2" d="M124.2 373.6H182.4"/></g>
<text class="lg" x="201.8" y="382.9">e- 300 MeV</text>
<g stroke="#008000" fill="none"><path stroke-width="2.8" d="M153.3 400.2V427M150.7 400.2h5.2M150.7 427h5.2"/><path stroke-width="4.2" d="M124.2 413.6H182.4"/></g>
<text class="lg" x="201.8" y="422.9">p 105 MeV</text>
<g stroke="#ffa500" fill="none"><path stroke-width="2.8" d="M153.3 440.2V467M150.7 440.2h5.2M150.7 467h5.2"/><path stroke-width="4.2" d="M124.2 453.6H182.4"/></g>
<text class="lg" x="201.8" y="462.9">C 194 MeV/u</text>
<g stroke="#ff0000" fill="none"><path stroke-width="2.8" d="M153.3 480.2V507M150.7 480.2h5.2M150.7 507h5.2"/><path stroke-width="4.2" d="M124.2 493.6H182.4"/></g>
<text class="lg" x="201.8" y="502.9">Ne 262 MeV/u</text>
</svg>
</body>
</html>
